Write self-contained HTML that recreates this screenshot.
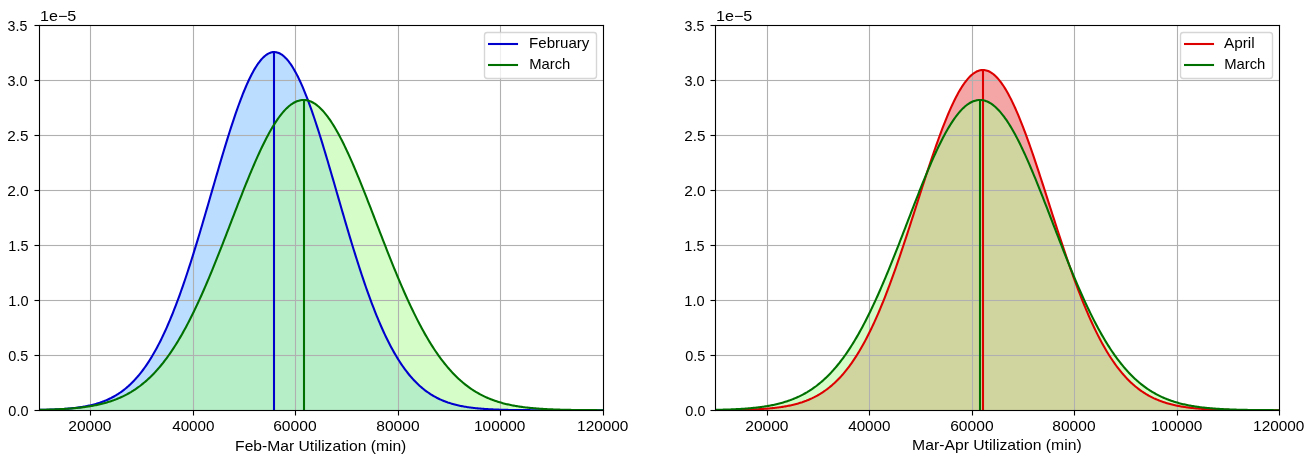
<!DOCTYPE html>
<html lang="en"><head><meta charset="utf-8"><title>Utilization distributions</title>
<style>
html,body{margin:0;padding:0;background:#fff;overflow:hidden}
#fig{position:relative;width:1312px;height:457px;overflow:hidden;background:#fff;font-family:"Liberation Sans",sans-serif;font-size:14.1px;color:#000}
#fig svg{position:absolute;left:0;top:0}
#labels{position:absolute;left:0;top:0;width:1312px;height:457px;will-change:transform}
.t{position:absolute;left:0;top:0;white-space:nowrap;line-height:20px;transform-origin:0 0}
</style></head><body>
<div id="fig">
<svg width="1312" height="457" viewBox="0 0 1312 457">
<defs>
<clipPath id="c0"><rect x="39" y="25" width="565" height="386"/></clipPath>
<clipPath id="c1"><rect x="715" y="25" width="565" height="386"/></clipPath>
</defs>
<g clip-path="url(#c0)">
<path d="M39.00,409.93 L40.00,409.91 L41.00,409.89 L42.00,409.87 L43.00,409.84 L44.00,409.82 L45.00,409.79 L46.00,409.77 L46.99,409.74 L47.99,409.71 L48.99,409.67 L49.99,409.64 L50.99,409.61 L51.99,409.57 L52.99,409.53 L53.99,409.49 L54.99,409.44 L55.99,409.40 L56.99,409.35 L57.99,409.30 L58.99,409.24 L59.99,409.19 L60.99,409.13 L61.99,409.07 L62.98,409.00 L63.98,408.93 L64.98,408.86 L65.98,408.79 L66.98,408.71 L67.98,408.62 L68.98,408.54 L69.98,408.45 L70.98,408.35 L71.98,408.25 L72.98,408.15 L73.98,408.04 L74.98,407.92 L75.98,407.80 L76.98,407.67 L77.98,407.54 L78.97,407.40 L79.97,407.26 L80.97,407.11 L81.97,406.95 L82.97,406.79 L83.97,406.62 L84.97,406.44 L85.97,406.25 L86.97,406.06 L87.97,405.85 L88.97,405.64 L89.97,405.42 L90.97,405.19 L91.97,404.95 L92.97,404.70 L93.96,404.44 L94.96,404.17 L95.96,403.88 L96.96,403.59 L97.96,403.29 L98.96,402.97 L99.96,402.64 L100.96,402.30 L101.96,401.94 L102.96,401.57 L103.96,401.19 L104.96,400.79 L105.96,400.37 L106.96,399.94 L107.96,399.50 L108.96,399.04 L109.95,398.56 L110.95,398.06 L111.95,397.55 L112.95,397.02 L113.95,396.47 L114.95,395.90 L115.95,395.31 L116.95,394.70 L117.95,394.07 L118.95,393.42 L119.95,392.74 L120.95,392.05 L121.95,391.33 L122.95,390.59 L123.95,389.82 L124.95,389.03 L125.94,388.21 L126.94,387.37 L127.94,386.51 L128.94,385.61 L129.94,384.69 L130.94,383.74 L131.94,382.76 L132.94,381.76 L133.94,380.72 L134.94,379.66 L135.94,378.56 L136.94,377.43 L137.94,376.28 L138.94,375.09 L139.94,373.86 L140.93,372.61 L141.93,371.32 L142.93,370.00 L143.93,368.64 L144.93,367.25 L145.93,365.82 L146.93,364.36 L147.93,362.86 L148.93,361.32 L149.93,359.75 L150.93,358.14 L151.93,356.49 L152.93,354.81 L153.93,353.08 L154.93,351.32 L155.93,349.52 L156.92,347.68 L157.92,345.80 L158.92,343.88 L159.92,341.92 L160.92,339.92 L161.92,337.88 L162.92,335.80 L163.92,333.67 L164.92,331.51 L165.92,329.31 L166.92,327.07 L167.92,324.78 L168.92,322.46 L169.92,320.10 L170.92,317.69 L171.92,315.25 L172.91,312.77 L173.91,310.24 L174.91,307.68 L175.91,305.08 L176.91,302.44 L177.91,299.76 L178.91,297.04 L179.91,294.29 L180.91,291.50 L181.91,288.67 L182.91,285.81 L183.91,282.91 L184.91,279.98 L185.91,277.01 L186.91,274.01 L187.90,270.98 L188.90,267.92 L189.90,264.82 L190.90,261.70 L191.90,258.55 L192.90,255.37 L193.90,252.16 L194.90,248.93 L195.90,245.67 L196.90,242.40 L197.90,239.09 L198.90,235.77 L199.90,232.43 L200.90,229.07 L201.90,225.70 L202.90,222.31 L203.89,218.90 L204.89,215.49 L205.89,212.06 L206.89,208.62 L207.89,205.18 L208.89,201.73 L209.89,198.27 L210.89,194.81 L211.89,191.35 L212.89,187.90 L213.89,184.44 L214.89,180.99 L215.89,177.55 L216.89,174.11 L217.89,170.68 L218.89,167.27 L219.88,163.87 L220.88,160.48 L221.88,157.12 L222.88,153.77 L223.88,150.44 L224.88,147.14 L225.88,143.86 L226.88,140.61 L227.88,137.39 L228.88,134.21 L229.88,131.05 L230.88,127.93 L231.88,124.85 L232.88,121.81 L233.88,118.81 L234.87,115.85 L235.87,112.94 L236.87,110.07 L237.87,107.25 L238.87,104.49 L239.87,101.78 L240.87,99.12 L241.87,96.52 L242.87,93.98 L243.87,91.50 L244.87,89.08 L245.87,86.72 L246.87,84.43 L247.87,82.21 L248.87,80.05 L249.87,77.97 L250.86,75.95 L251.86,74.01 L252.86,72.14 L253.86,70.35 L254.86,68.64 L255.86,67.01 L256.86,65.45 L257.86,63.98 L258.86,62.58 L259.86,61.27 L260.86,60.05 L261.86,58.90 L262.86,57.85 L263.86,56.88 L264.86,56.00 L265.86,55.20 L266.85,54.50 L267.85,53.88 L268.85,53.35 L269.85,52.91 L270.85,52.56 L271.85,52.31 L272.85,52.14 L273.85,52.06 L274.85,52.08 L275.85,52.18 L276.85,52.38 L277.85,52.66 L278.85,53.04 L279.85,53.51 L280.85,54.06 L281.84,54.71 L282.84,55.44 L283.84,56.27 L284.84,57.18 L285.84,58.17 L286.84,59.26 L287.84,60.42 L288.84,61.68 L289.84,63.01 L290.84,64.43 L291.84,65.93 L292.84,67.51 L293.84,69.17 L294.84,70.91 L295.84,72.73 L296.84,74.62 L297.83,76.58 L298.83,78.62 L299.83,80.73 L300.83,82.90 L301.83,85.15 L302.83,87.46 L303.83,89.84 L304.83,92.28 L305.83,94.78 L306.83,97.34 L307.83,99.96 L308.83,102.63 L309.83,105.36 L310.83,108.14 L311.83,110.97 L312.83,113.85 L313.82,116.78 L314.82,119.75 L315.82,122.76 L316.82,125.82 L317.82,128.91 L318.82,132.04 L319.82,135.21 L320.82,138.41 L321.82,141.64 L322.82,144.90 L323.82,148.18 L324.82,151.49 L325.82,154.83 L326.82,158.18 L327.82,161.55 L328.81,164.94 L329.81,168.35 L330.81,171.77 L331.81,175.20 L332.81,178.64 L333.81,182.08 L334.81,185.53 L335.81,188.99 L336.81,192.45 L337.81,195.91 L338.81,199.36 L339.81,202.82 L340.81,206.27 L341.81,209.71 L342.81,213.14 L343.81,216.57 L344.80,219.98 L345.80,223.38 L346.80,226.77 L347.80,230.14 L348.80,233.49 L349.80,236.83 L350.80,240.14 L351.80,243.44 L352.80,246.71 L353.80,249.96 L354.80,253.18 L355.80,256.38 L356.80,259.55 L357.80,262.69 L358.80,265.80 L359.80,268.89 L360.79,271.94 L361.79,274.96 L362.79,277.95 L363.79,280.91 L364.79,283.83 L365.79,286.72 L366.79,289.57 L367.79,292.38 L368.79,295.16 L369.79,297.91 L370.79,300.61 L371.79,303.28 L372.79,305.90 L373.79,308.49 L374.79,311.04 L375.78,313.56 L376.78,316.03 L377.78,318.46 L378.78,320.85 L379.78,323.20 L380.78,325.51 L381.78,327.78 L382.78,330.01 L383.78,332.20 L384.78,334.35 L385.78,336.46 L386.78,338.53 L387.78,340.55 L388.78,342.54 L389.78,344.49 L390.78,346.40 L391.77,348.26 L392.77,350.09 L393.77,351.88 L394.77,353.63 L395.77,355.34 L396.77,357.02 L397.77,358.65 L398.77,360.25 L399.77,361.81 L400.77,363.34 L401.77,364.83 L402.77,366.28 L403.77,367.69 L404.77,369.07 L405.77,370.42 L406.77,371.73 L407.76,373.01 L408.76,374.25 L409.76,375.47 L410.76,376.65 L411.76,377.79 L412.76,378.91 L413.76,380.00 L414.76,381.05 L415.76,382.08 L416.76,383.08 L417.76,384.04 L418.76,384.98 L419.76,385.90 L420.76,386.78 L421.76,387.64 L422.75,388.47 L423.75,389.28 L424.75,390.07 L425.75,390.82 L426.75,391.56 L427.75,392.27 L428.75,392.96 L429.75,393.63 L430.75,394.27 L431.75,394.89 L432.75,395.50 L433.75,396.08 L434.75,396.64 L435.75,397.19 L436.75,397.72 L437.75,398.22 L438.74,398.71 L439.74,399.19 L440.74,399.64 L441.74,400.08 L442.74,400.51 L443.74,400.92 L444.74,401.31 L445.74,401.69 L446.74,402.05 L447.74,402.41 L448.74,402.74 L449.74,403.07 L450.74,403.38 L451.74,403.69 L452.74,403.98 L453.74,404.25 L454.73,404.52 L455.73,404.78 L456.73,405.03 L457.73,405.26 L458.73,405.49 L459.73,405.71 L460.73,405.92 L461.73,406.12 L462.73,406.31 L463.73,406.49 L464.73,406.67 L465.73,406.84 L466.73,407.00 L467.73,407.16 L468.73,407.31 L469.72,407.45 L470.72,407.58 L471.72,407.71 L472.72,407.84 L473.72,407.96 L474.72,408.07 L475.72,408.18 L476.72,408.28 L477.72,408.38 L478.72,408.48 L479.72,408.57 L480.72,408.65 L481.72,408.73 L482.72,408.81 L483.72,408.89 L484.72,408.96 L485.71,409.02 L486.71,409.09 L487.71,409.15 L488.71,409.21 L489.71,409.26 L490.71,409.31 L491.71,409.36 L492.71,409.41 L493.71,409.46 L494.71,409.50 L495.71,409.54 L496.71,409.58 L497.71,409.62 L498.71,409.65 L499.71,409.69 L500.71,409.72 L501.70,409.75 L502.70,409.77 L503.70,409.80 L504.70,409.83 L505.70,409.85 L506.70,409.87 L507.70,409.90 L508.70,409.92 L509.70,409.94 L510.70,409.95 L511.70,409.97 L512.70,409.99 L513.70,410.00 L514.70,410.02 L515.70,410.03 L516.69,410.04 L517.69,410.06 L518.69,410.07 L519.69,410.08 L520.69,410.09 L521.69,410.10 L522.69,410.11 L523.69,410.12 L524.69,410.13 L525.69,410.13 L526.69,410.14 L527.69,410.15 L528.69,410.15 L529.69,410.16 L530.69,410.17 L531.69,410.17 L532.68,410.18 L533.68,410.18 L534.68,410.18 L535.68,410.19 L536.68,410.19 L537.68,410.20 L538.68,410.20 L539.68,410.20 L540.68,410.21 L541.68,410.21 L542.68,410.21 L543.68,410.21 L544.68,410.22 L545.68,410.22 L546.68,410.22 L547.68,410.22 L548.67,410.22 L549.67,410.23 L550.67,410.23 L551.67,410.23 L552.67,410.23 L553.67,410.23 L554.67,410.23 L555.67,410.23 L556.67,410.24 L557.67,410.24 L558.67,410.24 L559.67,410.24 L560.67,410.24 L561.67,410.24 L562.67,410.24 L563.66,410.24 L564.66,410.24 L565.66,410.24 L566.66,410.24 L567.66,410.24 L568.66,410.24 L569.66,410.24 L570.66,410.24 L571.66,410.25 L572.66,410.25 L573.66,410.25 L574.66,410.25 L575.66,410.25 L576.66,410.25 L577.66,410.25 L578.66,410.25 L579.65,410.25 L580.65,410.25 L581.65,410.25 L582.65,410.25 L583.65,410.25 L584.65,410.25 L585.65,410.25 L586.65,410.25 L587.65,410.25 L588.65,410.25 L589.65,410.25 L590.65,410.25 L591.65,410.25 L592.65,410.25 L593.65,410.25 L594.65,410.25 L595.64,410.25 L596.64,410.25 L597.64,410.25 L598.64,410.25 L599.64,410.25 L600.64,410.25 L601.64,410.25 L602.64,410.25 L602.64,410.25 L39.00,410.25 Z" fill="#1e90ff" fill-opacity="0.3" stroke="none"/>
<path d="M39.00,409.85 L40.00,409.83 L41.00,409.81 L42.00,409.79 L43.00,409.77 L44.00,409.74 L45.00,409.72 L46.00,409.69 L46.99,409.66 L47.99,409.63 L48.99,409.60 L49.99,409.57 L50.99,409.53 L51.99,409.50 L52.99,409.46 L53.99,409.42 L54.99,409.38 L55.99,409.34 L56.99,409.30 L57.99,409.25 L58.99,409.21 L59.99,409.16 L60.99,409.10 L61.99,409.05 L62.98,408.99 L63.98,408.93 L64.98,408.87 L65.98,408.81 L66.98,408.74 L67.98,408.67 L68.98,408.60 L69.98,408.53 L70.98,408.45 L71.98,408.37 L72.98,408.28 L73.98,408.20 L74.98,408.10 L75.98,408.01 L76.98,407.91 L77.98,407.81 L78.97,407.70 L79.97,407.59 L80.97,407.47 L81.97,407.35 L82.97,407.23 L83.97,407.10 L84.97,406.97 L85.97,406.83 L86.97,406.68 L87.97,406.53 L88.97,406.38 L89.97,406.22 L90.97,406.05 L91.97,405.88 L92.97,405.70 L93.96,405.51 L94.96,405.32 L95.96,405.12 L96.96,404.91 L97.96,404.70 L98.96,404.48 L99.96,404.25 L100.96,404.01 L101.96,403.77 L102.96,403.52 L103.96,403.26 L104.96,402.99 L105.96,402.71 L106.96,402.42 L107.96,402.12 L108.96,401.81 L109.95,401.50 L110.95,401.17 L111.95,400.83 L112.95,400.48 L113.95,400.12 L114.95,399.75 L115.95,399.37 L116.95,398.97 L117.95,398.57 L118.95,398.15 L119.95,397.72 L120.95,397.27 L121.95,396.82 L122.95,396.34 L123.95,395.86 L124.95,395.36 L125.94,394.85 L126.94,394.32 L127.94,393.78 L128.94,393.22 L129.94,392.64 L130.94,392.06 L131.94,391.45 L132.94,390.83 L133.94,390.19 L134.94,389.53 L135.94,388.86 L136.94,388.17 L137.94,387.46 L138.94,386.73 L139.94,385.99 L140.93,385.22 L141.93,384.44 L142.93,383.63 L143.93,382.81 L144.93,381.97 L145.93,381.10 L146.93,380.22 L147.93,379.31 L148.93,378.39 L149.93,377.44 L150.93,376.47 L151.93,375.47 L152.93,374.46 L153.93,373.42 L154.93,372.36 L155.93,371.28 L156.92,370.17 L157.92,369.04 L158.92,367.89 L159.92,366.71 L160.92,365.51 L161.92,364.28 L162.92,363.03 L163.92,361.76 L164.92,360.46 L165.92,359.13 L166.92,357.78 L167.92,356.40 L168.92,355.00 L169.92,353.57 L170.92,352.12 L171.92,350.64 L172.91,349.13 L173.91,347.60 L174.91,346.04 L175.91,344.46 L176.91,342.85 L177.91,341.21 L178.91,339.54 L179.91,337.85 L180.91,336.14 L181.91,334.40 L182.91,332.63 L183.91,330.83 L184.91,329.01 L185.91,327.16 L186.91,325.29 L187.90,323.39 L188.90,321.47 L189.90,319.52 L190.90,317.55 L191.90,315.55 L192.90,313.52 L193.90,311.47 L194.90,309.40 L195.90,307.30 L196.90,305.18 L197.90,303.04 L198.90,300.87 L199.90,298.68 L200.90,296.47 L201.90,294.24 L202.90,291.98 L203.89,289.71 L204.89,287.41 L205.89,285.10 L206.89,282.76 L207.89,280.41 L208.89,278.04 L209.89,275.65 L210.89,273.24 L211.89,270.81 L212.89,268.38 L213.89,265.92 L214.89,263.45 L215.89,260.97 L216.89,258.47 L217.89,255.96 L218.89,253.44 L219.88,250.91 L220.88,248.37 L221.88,245.82 L222.88,243.26 L223.88,240.69 L224.88,238.12 L225.88,235.54 L226.88,232.96 L227.88,230.37 L228.88,227.78 L229.88,225.18 L230.88,222.59 L231.88,219.99 L232.88,217.40 L233.88,214.81 L234.87,212.22 L235.87,209.63 L236.87,207.05 L237.87,204.48 L238.87,201.91 L239.87,199.35 L240.87,196.80 L241.87,194.26 L242.87,191.73 L243.87,189.21 L244.87,186.71 L245.87,184.22 L246.87,181.75 L247.87,179.29 L248.87,176.85 L249.87,174.43 L250.86,172.04 L251.86,169.66 L252.86,167.30 L253.86,164.97 L254.86,162.67 L255.86,160.39 L256.86,158.13 L257.86,155.91 L258.86,153.71 L259.86,151.54 L260.86,149.41 L261.86,147.31 L262.86,145.24 L263.86,143.20 L264.86,141.20 L265.86,139.24 L266.85,137.32 L267.85,135.43 L268.85,133.58 L269.85,131.78 L270.85,130.01 L271.85,128.29 L272.85,126.61 L273.85,124.98 L274.85,123.39 L275.85,121.84 L276.85,120.35 L277.85,118.90 L278.85,117.50 L279.85,116.15 L280.85,114.84 L281.84,113.59 L282.84,112.39 L283.84,111.25 L284.84,110.15 L285.84,109.11 L286.84,108.12 L287.84,107.19 L288.84,106.31 L289.84,105.49 L290.84,104.72 L291.84,104.01 L292.84,103.36 L293.84,102.76 L294.84,102.22 L295.84,101.74 L296.84,101.31 L297.83,100.95 L298.83,100.64 L299.83,100.39 L300.83,100.20 L301.83,100.07 L302.83,100.00 L303.83,99.99 L304.83,100.03 L305.83,100.14 L306.83,100.30 L307.83,100.52 L308.83,100.80 L309.83,101.14 L310.83,101.54 L311.83,102.00 L312.83,102.51 L313.82,103.09 L314.82,103.71 L315.82,104.40 L316.82,105.14 L317.82,105.94 L318.82,106.79 L319.82,107.70 L320.82,108.67 L321.82,109.68 L322.82,110.76 L323.82,111.88 L324.82,113.06 L325.82,114.29 L326.82,115.56 L327.82,116.89 L328.81,118.27 L329.81,119.70 L330.81,121.18 L331.81,122.70 L332.81,124.27 L333.81,125.88 L334.81,127.54 L335.81,129.25 L336.81,130.99 L337.81,132.78 L338.81,134.61 L339.81,136.48 L340.81,138.39 L341.81,140.33 L342.81,142.31 L343.81,144.33 L344.80,146.39 L345.80,148.48 L346.80,150.60 L347.80,152.75 L348.80,154.93 L349.80,157.14 L350.80,159.39 L351.80,161.65 L352.80,163.95 L353.80,166.27 L354.80,168.61 L355.80,170.98 L356.80,173.37 L357.80,175.78 L358.80,178.21 L359.80,180.66 L360.79,183.12 L361.79,185.61 L362.79,188.10 L363.79,190.61 L364.79,193.14 L365.79,195.67 L366.79,198.22 L367.79,200.77 L368.79,203.34 L369.79,205.91 L370.79,208.49 L371.79,211.07 L372.79,213.66 L373.79,216.25 L374.79,218.85 L375.78,221.44 L376.78,224.03 L377.78,226.63 L378.78,229.22 L379.78,231.81 L380.78,234.40 L381.78,236.98 L382.78,239.55 L383.78,242.12 L384.78,244.69 L385.78,247.24 L386.78,249.79 L387.78,252.32 L388.78,254.85 L389.78,257.36 L390.78,259.87 L391.77,262.35 L392.77,264.83 L393.77,267.29 L394.77,269.74 L395.77,272.17 L396.77,274.58 L397.77,276.98 L398.77,279.36 L399.77,281.72 L400.77,284.07 L401.77,286.39 L402.77,288.70 L403.77,290.98 L404.77,293.24 L405.77,295.49 L406.77,297.71 L407.76,299.91 L408.76,302.08 L409.76,304.24 L410.76,306.37 L411.76,308.48 L412.76,310.56 L413.76,312.62 L414.76,314.65 L415.76,316.66 L416.76,318.65 L417.76,320.61 L418.76,322.55 L419.76,324.46 L420.76,326.34 L421.76,328.20 L422.75,330.03 L423.75,331.84 L424.75,333.62 L425.75,335.37 L426.75,337.10 L427.75,338.80 L428.75,340.48 L429.75,342.12 L430.75,343.75 L431.75,345.34 L432.75,346.91 L433.75,348.46 L434.75,349.98 L435.75,351.47 L436.75,352.93 L437.75,354.37 L438.74,355.79 L439.74,357.17 L440.74,358.54 L441.74,359.87 L442.74,361.19 L443.74,362.47 L444.74,363.73 L445.74,364.97 L446.74,366.18 L447.74,367.37 L448.74,368.54 L449.74,369.68 L450.74,370.79 L451.74,371.89 L452.74,372.96 L453.74,374.00 L454.73,375.03 L455.73,376.03 L456.73,377.01 L457.73,377.97 L458.73,378.90 L459.73,379.82 L460.73,380.71 L461.73,381.59 L462.73,382.44 L463.73,383.27 L464.73,384.08 L465.73,384.88 L466.73,385.65 L467.73,386.40 L468.73,387.14 L469.72,387.86 L470.72,388.56 L471.72,389.24 L472.72,389.90 L473.72,390.55 L474.72,391.18 L475.72,391.79 L476.72,392.39 L477.72,392.97 L478.72,393.53 L479.72,394.08 L480.72,394.62 L481.72,395.14 L482.72,395.64 L483.72,396.13 L484.72,396.61 L485.71,397.07 L486.71,397.52 L487.71,397.96 L488.71,398.38 L489.71,398.80 L490.71,399.20 L491.71,399.58 L492.71,399.96 L493.71,400.32 L494.71,400.68 L495.71,401.02 L496.71,401.35 L497.71,401.67 L498.71,401.99 L499.71,402.29 L500.71,402.58 L501.70,402.86 L502.70,403.14 L503.70,403.40 L504.70,403.66 L505.70,403.91 L506.70,404.15 L507.70,404.38 L508.70,404.60 L509.70,404.82 L510.70,405.03 L511.70,405.23 L512.70,405.43 L513.70,405.62 L514.70,405.80 L515.70,405.97 L516.69,406.14 L517.69,406.31 L518.69,406.46 L519.69,406.62 L520.69,406.76 L521.69,406.90 L522.69,407.04 L523.69,407.17 L524.69,407.30 L525.69,407.42 L526.69,407.54 L527.69,407.65 L528.69,407.76 L529.69,407.86 L530.69,407.97 L531.69,408.06 L532.68,408.16 L533.68,408.24 L534.68,408.33 L535.68,408.41 L536.68,408.49 L537.68,408.57 L538.68,408.64 L539.68,408.71 L540.68,408.78 L541.68,408.85 L542.68,408.91 L543.68,408.97 L544.68,409.03 L545.68,409.08 L546.68,409.13 L547.68,409.18 L548.67,409.23 L549.67,409.28 L550.67,409.32 L551.67,409.37 L552.67,409.41 L553.67,409.45 L554.67,409.48 L555.67,409.52 L556.67,409.55 L557.67,409.59 L558.67,409.62 L559.67,409.65 L560.67,409.68 L561.67,409.70 L562.67,409.73 L563.66,409.76 L564.66,409.78 L565.66,409.80 L566.66,409.82 L567.66,409.84 L568.66,409.86 L569.66,409.88 L570.66,409.90 L571.66,409.92 L572.66,409.94 L573.66,409.95 L574.66,409.97 L575.66,409.98 L576.66,409.99 L577.66,410.01 L578.66,410.02 L579.65,410.03 L580.65,410.04 L581.65,410.05 L582.65,410.06 L583.65,410.07 L584.65,410.08 L585.65,410.09 L586.65,410.10 L587.65,410.11 L588.65,410.11 L589.65,410.12 L590.65,410.13 L591.65,410.14 L592.65,410.14 L593.65,410.15 L594.65,410.15 L595.64,410.16 L596.64,410.16 L597.64,410.17 L598.64,410.17 L599.64,410.18 L600.64,410.18 L601.64,410.18 L602.64,410.19 L602.64,410.25 L39.00,410.25 Z" fill="#b3fb9b" fill-opacity="0.55" stroke="none"/>
<g fill="#b0b0b0">
<rect x="89.945" y="25" width="1.11" height="386"/>
<rect x="192.945" y="25" width="1.11" height="386"/>
<rect x="294.945" y="25" width="1.11" height="386"/>
<rect x="397.945" y="25" width="1.11" height="386"/>
<rect x="499.945" y="25" width="1.11" height="386"/>
<rect x="39" y="79.945" width="565" height="1.11"/>
<rect x="39" y="134.945" width="565" height="1.11"/>
<rect x="39" y="189.945" width="565" height="1.11"/>
<rect x="39" y="244.945" width="565" height="1.11"/>
<rect x="39" y="299.945" width="565" height="1.11"/>
<rect x="39" y="354.945" width="565" height="1.11"/>
</g>
<path d="M39.00,409.93 L40.00,409.91 L41.00,409.89 L42.00,409.87 L43.00,409.84 L44.00,409.82 L45.00,409.79 L46.00,409.77 L46.99,409.74 L47.99,409.71 L48.99,409.67 L49.99,409.64 L50.99,409.61 L51.99,409.57 L52.99,409.53 L53.99,409.49 L54.99,409.44 L55.99,409.40 L56.99,409.35 L57.99,409.30 L58.99,409.24 L59.99,409.19 L60.99,409.13 L61.99,409.07 L62.98,409.00 L63.98,408.93 L64.98,408.86 L65.98,408.79 L66.98,408.71 L67.98,408.62 L68.98,408.54 L69.98,408.45 L70.98,408.35 L71.98,408.25 L72.98,408.15 L73.98,408.04 L74.98,407.92 L75.98,407.80 L76.98,407.67 L77.98,407.54 L78.97,407.40 L79.97,407.26 L80.97,407.11 L81.97,406.95 L82.97,406.79 L83.97,406.62 L84.97,406.44 L85.97,406.25 L86.97,406.06 L87.97,405.85 L88.97,405.64 L89.97,405.42 L90.97,405.19 L91.97,404.95 L92.97,404.70 L93.96,404.44 L94.96,404.17 L95.96,403.88 L96.96,403.59 L97.96,403.29 L98.96,402.97 L99.96,402.64 L100.96,402.30 L101.96,401.94 L102.96,401.57 L103.96,401.19 L104.96,400.79 L105.96,400.37 L106.96,399.94 L107.96,399.50 L108.96,399.04 L109.95,398.56 L110.95,398.06 L111.95,397.55 L112.95,397.02 L113.95,396.47 L114.95,395.90 L115.95,395.31 L116.95,394.70 L117.95,394.07 L118.95,393.42 L119.95,392.74 L120.95,392.05 L121.95,391.33 L122.95,390.59 L123.95,389.82 L124.95,389.03 L125.94,388.21 L126.94,387.37 L127.94,386.51 L128.94,385.61 L129.94,384.69 L130.94,383.74 L131.94,382.76 L132.94,381.76 L133.94,380.72 L134.94,379.66 L135.94,378.56 L136.94,377.43 L137.94,376.28 L138.94,375.09 L139.94,373.86 L140.93,372.61 L141.93,371.32 L142.93,370.00 L143.93,368.64 L144.93,367.25 L145.93,365.82 L146.93,364.36 L147.93,362.86 L148.93,361.32 L149.93,359.75 L150.93,358.14 L151.93,356.49 L152.93,354.81 L153.93,353.08 L154.93,351.32 L155.93,349.52 L156.92,347.68 L157.92,345.80 L158.92,343.88 L159.92,341.92 L160.92,339.92 L161.92,337.88 L162.92,335.80 L163.92,333.67 L164.92,331.51 L165.92,329.31 L166.92,327.07 L167.92,324.78 L168.92,322.46 L169.92,320.10 L170.92,317.69 L171.92,315.25 L172.91,312.77 L173.91,310.24 L174.91,307.68 L175.91,305.08 L176.91,302.44 L177.91,299.76 L178.91,297.04 L179.91,294.29 L180.91,291.50 L181.91,288.67 L182.91,285.81 L183.91,282.91 L184.91,279.98 L185.91,277.01 L186.91,274.01 L187.90,270.98 L188.90,267.92 L189.90,264.82 L190.90,261.70 L191.90,258.55 L192.90,255.37 L193.90,252.16 L194.90,248.93 L195.90,245.67 L196.90,242.40 L197.90,239.09 L198.90,235.77 L199.90,232.43 L200.90,229.07 L201.90,225.70 L202.90,222.31 L203.89,218.90 L204.89,215.49 L205.89,212.06 L206.89,208.62 L207.89,205.18 L208.89,201.73 L209.89,198.27 L210.89,194.81 L211.89,191.35 L212.89,187.90 L213.89,184.44 L214.89,180.99 L215.89,177.55 L216.89,174.11 L217.89,170.68 L218.89,167.27 L219.88,163.87 L220.88,160.48 L221.88,157.12 L222.88,153.77 L223.88,150.44 L224.88,147.14 L225.88,143.86 L226.88,140.61 L227.88,137.39 L228.88,134.21 L229.88,131.05 L230.88,127.93 L231.88,124.85 L232.88,121.81 L233.88,118.81 L234.87,115.85 L235.87,112.94 L236.87,110.07 L237.87,107.25 L238.87,104.49 L239.87,101.78 L240.87,99.12 L241.87,96.52 L242.87,93.98 L243.87,91.50 L244.87,89.08 L245.87,86.72 L246.87,84.43 L247.87,82.21 L248.87,80.05 L249.87,77.97 L250.86,75.95 L251.86,74.01 L252.86,72.14 L253.86,70.35 L254.86,68.64 L255.86,67.01 L256.86,65.45 L257.86,63.98 L258.86,62.58 L259.86,61.27 L260.86,60.05 L261.86,58.90 L262.86,57.85 L263.86,56.88 L264.86,56.00 L265.86,55.20 L266.85,54.50 L267.85,53.88 L268.85,53.35 L269.85,52.91 L270.85,52.56 L271.85,52.31 L272.85,52.14 L273.85,52.06 L274.85,52.08 L275.85,52.18 L276.85,52.38 L277.85,52.66 L278.85,53.04 L279.85,53.51 L280.85,54.06 L281.84,54.71 L282.84,55.44 L283.84,56.27 L284.84,57.18 L285.84,58.17 L286.84,59.26 L287.84,60.42 L288.84,61.68 L289.84,63.01 L290.84,64.43 L291.84,65.93 L292.84,67.51 L293.84,69.17 L294.84,70.91 L295.84,72.73 L296.84,74.62 L297.83,76.58 L298.83,78.62 L299.83,80.73 L300.83,82.90 L301.83,85.15 L302.83,87.46 L303.83,89.84 L304.83,92.28 L305.83,94.78 L306.83,97.34 L307.83,99.96 L308.83,102.63 L309.83,105.36 L310.83,108.14 L311.83,110.97 L312.83,113.85 L313.82,116.78 L314.82,119.75 L315.82,122.76 L316.82,125.82 L317.82,128.91 L318.82,132.04 L319.82,135.21 L320.82,138.41 L321.82,141.64 L322.82,144.90 L323.82,148.18 L324.82,151.49 L325.82,154.83 L326.82,158.18 L327.82,161.55 L328.81,164.94 L329.81,168.35 L330.81,171.77 L331.81,175.20 L332.81,178.64 L333.81,182.08 L334.81,185.53 L335.81,188.99 L336.81,192.45 L337.81,195.91 L338.81,199.36 L339.81,202.82 L340.81,206.27 L341.81,209.71 L342.81,213.14 L343.81,216.57 L344.80,219.98 L345.80,223.38 L346.80,226.77 L347.80,230.14 L348.80,233.49 L349.80,236.83 L350.80,240.14 L351.80,243.44 L352.80,246.71 L353.80,249.96 L354.80,253.18 L355.80,256.38 L356.80,259.55 L357.80,262.69 L358.80,265.80 L359.80,268.89 L360.79,271.94 L361.79,274.96 L362.79,277.95 L363.79,280.91 L364.79,283.83 L365.79,286.72 L366.79,289.57 L367.79,292.38 L368.79,295.16 L369.79,297.91 L370.79,300.61 L371.79,303.28 L372.79,305.90 L373.79,308.49 L374.79,311.04 L375.78,313.56 L376.78,316.03 L377.78,318.46 L378.78,320.85 L379.78,323.20 L380.78,325.51 L381.78,327.78 L382.78,330.01 L383.78,332.20 L384.78,334.35 L385.78,336.46 L386.78,338.53 L387.78,340.55 L388.78,342.54 L389.78,344.49 L390.78,346.40 L391.77,348.26 L392.77,350.09 L393.77,351.88 L394.77,353.63 L395.77,355.34 L396.77,357.02 L397.77,358.65 L398.77,360.25 L399.77,361.81 L400.77,363.34 L401.77,364.83 L402.77,366.28 L403.77,367.69 L404.77,369.07 L405.77,370.42 L406.77,371.73 L407.76,373.01 L408.76,374.25 L409.76,375.47 L410.76,376.65 L411.76,377.79 L412.76,378.91 L413.76,380.00 L414.76,381.05 L415.76,382.08 L416.76,383.08 L417.76,384.04 L418.76,384.98 L419.76,385.90 L420.76,386.78 L421.76,387.64 L422.75,388.47 L423.75,389.28 L424.75,390.07 L425.75,390.82 L426.75,391.56 L427.75,392.27 L428.75,392.96 L429.75,393.63 L430.75,394.27 L431.75,394.89 L432.75,395.50 L433.75,396.08 L434.75,396.64 L435.75,397.19 L436.75,397.72 L437.75,398.22 L438.74,398.71 L439.74,399.19 L440.74,399.64 L441.74,400.08 L442.74,400.51 L443.74,400.92 L444.74,401.31 L445.74,401.69 L446.74,402.05 L447.74,402.41 L448.74,402.74 L449.74,403.07 L450.74,403.38 L451.74,403.69 L452.74,403.98 L453.74,404.25 L454.73,404.52 L455.73,404.78 L456.73,405.03 L457.73,405.26 L458.73,405.49 L459.73,405.71 L460.73,405.92 L461.73,406.12 L462.73,406.31 L463.73,406.49 L464.73,406.67 L465.73,406.84 L466.73,407.00 L467.73,407.16 L468.73,407.31 L469.72,407.45 L470.72,407.58 L471.72,407.71 L472.72,407.84 L473.72,407.96 L474.72,408.07 L475.72,408.18 L476.72,408.28 L477.72,408.38 L478.72,408.48 L479.72,408.57 L480.72,408.65 L481.72,408.73 L482.72,408.81 L483.72,408.89 L484.72,408.96 L485.71,409.02 L486.71,409.09 L487.71,409.15 L488.71,409.21 L489.71,409.26 L490.71,409.31 L491.71,409.36 L492.71,409.41 L493.71,409.46 L494.71,409.50 L495.71,409.54 L496.71,409.58 L497.71,409.62 L498.71,409.65 L499.71,409.69 L500.71,409.72 L501.70,409.75 L502.70,409.77 L503.70,409.80 L504.70,409.83 L505.70,409.85 L506.70,409.87 L507.70,409.90 L508.70,409.92 L509.70,409.94 L510.70,409.95 L511.70,409.97 L512.70,409.99 L513.70,410.00 L514.70,410.02 L515.70,410.03 L516.69,410.04 L517.69,410.06 L518.69,410.07 L519.69,410.08 L520.69,410.09 L521.69,410.10 L522.69,410.11 L523.69,410.12 L524.69,410.13 L525.69,410.13 L526.69,410.14 L527.69,410.15 L528.69,410.15 L529.69,410.16 L530.69,410.17 L531.69,410.17 L532.68,410.18 L533.68,410.18 L534.68,410.18 L535.68,410.19 L536.68,410.19 L537.68,410.20 L538.68,410.20 L539.68,410.20 L540.68,410.21 L541.68,410.21 L542.68,410.21 L543.68,410.21 L544.68,410.22 L545.68,410.22 L546.68,410.22 L547.68,410.22 L548.67,410.22 L549.67,410.23 L550.67,410.23 L551.67,410.23 L552.67,410.23 L553.67,410.23 L554.67,410.23 L555.67,410.23 L556.67,410.24 L557.67,410.24 L558.67,410.24 L559.67,410.24 L560.67,410.24 L561.67,410.24 L562.67,410.24 L563.66,410.24 L564.66,410.24 L565.66,410.24 L566.66,410.24 L567.66,410.24 L568.66,410.24 L569.66,410.24 L570.66,410.24 L571.66,410.25 L572.66,410.25 L573.66,410.25 L574.66,410.25 L575.66,410.25 L576.66,410.25 L577.66,410.25 L578.66,410.25 L579.65,410.25 L580.65,410.25 L581.65,410.25 L582.65,410.25 L583.65,410.25 L584.65,410.25 L585.65,410.25 L586.65,410.25 L587.65,410.25 L588.65,410.25 L589.65,410.25 L590.65,410.25 L591.65,410.25 L592.65,410.25 L593.65,410.25 L594.65,410.25 L595.64,410.25 L596.64,410.25 L597.64,410.25 L598.64,410.25 L599.64,410.25 L600.64,410.25 L601.64,410.25 L602.64,410.25" fill="none" stroke="#0000cd" stroke-width="2.083" stroke-linejoin="round" stroke-linecap="square"/>
<rect x="272.96" y="52.06" width="2.08" height="358.19" fill="#0000cd"/>
<path d="M39.00,409.85 L40.00,409.83 L41.00,409.81 L42.00,409.79 L43.00,409.77 L44.00,409.74 L45.00,409.72 L46.00,409.69 L46.99,409.66 L47.99,409.63 L48.99,409.60 L49.99,409.57 L50.99,409.53 L51.99,409.50 L52.99,409.46 L53.99,409.42 L54.99,409.38 L55.99,409.34 L56.99,409.30 L57.99,409.25 L58.99,409.21 L59.99,409.16 L60.99,409.10 L61.99,409.05 L62.98,408.99 L63.98,408.93 L64.98,408.87 L65.98,408.81 L66.98,408.74 L67.98,408.67 L68.98,408.60 L69.98,408.53 L70.98,408.45 L71.98,408.37 L72.98,408.28 L73.98,408.20 L74.98,408.10 L75.98,408.01 L76.98,407.91 L77.98,407.81 L78.97,407.70 L79.97,407.59 L80.97,407.47 L81.97,407.35 L82.97,407.23 L83.97,407.10 L84.97,406.97 L85.97,406.83 L86.97,406.68 L87.97,406.53 L88.97,406.38 L89.97,406.22 L90.97,406.05 L91.97,405.88 L92.97,405.70 L93.96,405.51 L94.96,405.32 L95.96,405.12 L96.96,404.91 L97.96,404.70 L98.96,404.48 L99.96,404.25 L100.96,404.01 L101.96,403.77 L102.96,403.52 L103.96,403.26 L104.96,402.99 L105.96,402.71 L106.96,402.42 L107.96,402.12 L108.96,401.81 L109.95,401.50 L110.95,401.17 L111.95,400.83 L112.95,400.48 L113.95,400.12 L114.95,399.75 L115.95,399.37 L116.95,398.97 L117.95,398.57 L118.95,398.15 L119.95,397.72 L120.95,397.27 L121.95,396.82 L122.95,396.34 L123.95,395.86 L124.95,395.36 L125.94,394.85 L126.94,394.32 L127.94,393.78 L128.94,393.22 L129.94,392.64 L130.94,392.06 L131.94,391.45 L132.94,390.83 L133.94,390.19 L134.94,389.53 L135.94,388.86 L136.94,388.17 L137.94,387.46 L138.94,386.73 L139.94,385.99 L140.93,385.22 L141.93,384.44 L142.93,383.63 L143.93,382.81 L144.93,381.97 L145.93,381.10 L146.93,380.22 L147.93,379.31 L148.93,378.39 L149.93,377.44 L150.93,376.47 L151.93,375.47 L152.93,374.46 L153.93,373.42 L154.93,372.36 L155.93,371.28 L156.92,370.17 L157.92,369.04 L158.92,367.89 L159.92,366.71 L160.92,365.51 L161.92,364.28 L162.92,363.03 L163.92,361.76 L164.92,360.46 L165.92,359.13 L166.92,357.78 L167.92,356.40 L168.92,355.00 L169.92,353.57 L170.92,352.12 L171.92,350.64 L172.91,349.13 L173.91,347.60 L174.91,346.04 L175.91,344.46 L176.91,342.85 L177.91,341.21 L178.91,339.54 L179.91,337.85 L180.91,336.14 L181.91,334.40 L182.91,332.63 L183.91,330.83 L184.91,329.01 L185.91,327.16 L186.91,325.29 L187.90,323.39 L188.90,321.47 L189.90,319.52 L190.90,317.55 L191.90,315.55 L192.90,313.52 L193.90,311.47 L194.90,309.40 L195.90,307.30 L196.90,305.18 L197.90,303.04 L198.90,300.87 L199.90,298.68 L200.90,296.47 L201.90,294.24 L202.90,291.98 L203.89,289.71 L204.89,287.41 L205.89,285.10 L206.89,282.76 L207.89,280.41 L208.89,278.04 L209.89,275.65 L210.89,273.24 L211.89,270.81 L212.89,268.38 L213.89,265.92 L214.89,263.45 L215.89,260.97 L216.89,258.47 L217.89,255.96 L218.89,253.44 L219.88,250.91 L220.88,248.37 L221.88,245.82 L222.88,243.26 L223.88,240.69 L224.88,238.12 L225.88,235.54 L226.88,232.96 L227.88,230.37 L228.88,227.78 L229.88,225.18 L230.88,222.59 L231.88,219.99 L232.88,217.40 L233.88,214.81 L234.87,212.22 L235.87,209.63 L236.87,207.05 L237.87,204.48 L238.87,201.91 L239.87,199.35 L240.87,196.80 L241.87,194.26 L242.87,191.73 L243.87,189.21 L244.87,186.71 L245.87,184.22 L246.87,181.75 L247.87,179.29 L248.87,176.85 L249.87,174.43 L250.86,172.04 L251.86,169.66 L252.86,167.30 L253.86,164.97 L254.86,162.67 L255.86,160.39 L256.86,158.13 L257.86,155.91 L258.86,153.71 L259.86,151.54 L260.86,149.41 L261.86,147.31 L262.86,145.24 L263.86,143.20 L264.86,141.20 L265.86,139.24 L266.85,137.32 L267.85,135.43 L268.85,133.58 L269.85,131.78 L270.85,130.01 L271.85,128.29 L272.85,126.61 L273.85,124.98 L274.85,123.39 L275.85,121.84 L276.85,120.35 L277.85,118.90 L278.85,117.50 L279.85,116.15 L280.85,114.84 L281.84,113.59 L282.84,112.39 L283.84,111.25 L284.84,110.15 L285.84,109.11 L286.84,108.12 L287.84,107.19 L288.84,106.31 L289.84,105.49 L290.84,104.72 L291.84,104.01 L292.84,103.36 L293.84,102.76 L294.84,102.22 L295.84,101.74 L296.84,101.31 L297.83,100.95 L298.83,100.64 L299.83,100.39 L300.83,100.20 L301.83,100.07 L302.83,100.00 L303.83,99.99 L304.83,100.03 L305.83,100.14 L306.83,100.30 L307.83,100.52 L308.83,100.80 L309.83,101.14 L310.83,101.54 L311.83,102.00 L312.83,102.51 L313.82,103.09 L314.82,103.71 L315.82,104.40 L316.82,105.14 L317.82,105.94 L318.82,106.79 L319.82,107.70 L320.82,108.67 L321.82,109.68 L322.82,110.76 L323.82,111.88 L324.82,113.06 L325.82,114.29 L326.82,115.56 L327.82,116.89 L328.81,118.27 L329.81,119.70 L330.81,121.18 L331.81,122.70 L332.81,124.27 L333.81,125.88 L334.81,127.54 L335.81,129.25 L336.81,130.99 L337.81,132.78 L338.81,134.61 L339.81,136.48 L340.81,138.39 L341.81,140.33 L342.81,142.31 L343.81,144.33 L344.80,146.39 L345.80,148.48 L346.80,150.60 L347.80,152.75 L348.80,154.93 L349.80,157.14 L350.80,159.39 L351.80,161.65 L352.80,163.95 L353.80,166.27 L354.80,168.61 L355.80,170.98 L356.80,173.37 L357.80,175.78 L358.80,178.21 L359.80,180.66 L360.79,183.12 L361.79,185.61 L362.79,188.10 L363.79,190.61 L364.79,193.14 L365.79,195.67 L366.79,198.22 L367.79,200.77 L368.79,203.34 L369.79,205.91 L370.79,208.49 L371.79,211.07 L372.79,213.66 L373.79,216.25 L374.79,218.85 L375.78,221.44 L376.78,224.03 L377.78,226.63 L378.78,229.22 L379.78,231.81 L380.78,234.40 L381.78,236.98 L382.78,239.55 L383.78,242.12 L384.78,244.69 L385.78,247.24 L386.78,249.79 L387.78,252.32 L388.78,254.85 L389.78,257.36 L390.78,259.87 L391.77,262.35 L392.77,264.83 L393.77,267.29 L394.77,269.74 L395.77,272.17 L396.77,274.58 L397.77,276.98 L398.77,279.36 L399.77,281.72 L400.77,284.07 L401.77,286.39 L402.77,288.70 L403.77,290.98 L404.77,293.24 L405.77,295.49 L406.77,297.71 L407.76,299.91 L408.76,302.08 L409.76,304.24 L410.76,306.37 L411.76,308.48 L412.76,310.56 L413.76,312.62 L414.76,314.65 L415.76,316.66 L416.76,318.65 L417.76,320.61 L418.76,322.55 L419.76,324.46 L420.76,326.34 L421.76,328.20 L422.75,330.03 L423.75,331.84 L424.75,333.62 L425.75,335.37 L426.75,337.10 L427.75,338.80 L428.75,340.48 L429.75,342.12 L430.75,343.75 L431.75,345.34 L432.75,346.91 L433.75,348.46 L434.75,349.98 L435.75,351.47 L436.75,352.93 L437.75,354.37 L438.74,355.79 L439.74,357.17 L440.74,358.54 L441.74,359.87 L442.74,361.19 L443.74,362.47 L444.74,363.73 L445.74,364.97 L446.74,366.18 L447.74,367.37 L448.74,368.54 L449.74,369.68 L450.74,370.79 L451.74,371.89 L452.74,372.96 L453.74,374.00 L454.73,375.03 L455.73,376.03 L456.73,377.01 L457.73,377.97 L458.73,378.90 L459.73,379.82 L460.73,380.71 L461.73,381.59 L462.73,382.44 L463.73,383.27 L464.73,384.08 L465.73,384.88 L466.73,385.65 L467.73,386.40 L468.73,387.14 L469.72,387.86 L470.72,388.56 L471.72,389.24 L472.72,389.90 L473.72,390.55 L474.72,391.18 L475.72,391.79 L476.72,392.39 L477.72,392.97 L478.72,393.53 L479.72,394.08 L480.72,394.62 L481.72,395.14 L482.72,395.64 L483.72,396.13 L484.72,396.61 L485.71,397.07 L486.71,397.52 L487.71,397.96 L488.71,398.38 L489.71,398.80 L490.71,399.20 L491.71,399.58 L492.71,399.96 L493.71,400.32 L494.71,400.68 L495.71,401.02 L496.71,401.35 L497.71,401.67 L498.71,401.99 L499.71,402.29 L500.71,402.58 L501.70,402.86 L502.70,403.14 L503.70,403.40 L504.70,403.66 L505.70,403.91 L506.70,404.15 L507.70,404.38 L508.70,404.60 L509.70,404.82 L510.70,405.03 L511.70,405.23 L512.70,405.43 L513.70,405.62 L514.70,405.80 L515.70,405.97 L516.69,406.14 L517.69,406.31 L518.69,406.46 L519.69,406.62 L520.69,406.76 L521.69,406.90 L522.69,407.04 L523.69,407.17 L524.69,407.30 L525.69,407.42 L526.69,407.54 L527.69,407.65 L528.69,407.76 L529.69,407.86 L530.69,407.97 L531.69,408.06 L532.68,408.16 L533.68,408.24 L534.68,408.33 L535.68,408.41 L536.68,408.49 L537.68,408.57 L538.68,408.64 L539.68,408.71 L540.68,408.78 L541.68,408.85 L542.68,408.91 L543.68,408.97 L544.68,409.03 L545.68,409.08 L546.68,409.13 L547.68,409.18 L548.67,409.23 L549.67,409.28 L550.67,409.32 L551.67,409.37 L552.67,409.41 L553.67,409.45 L554.67,409.48 L555.67,409.52 L556.67,409.55 L557.67,409.59 L558.67,409.62 L559.67,409.65 L560.67,409.68 L561.67,409.70 L562.67,409.73 L563.66,409.76 L564.66,409.78 L565.66,409.80 L566.66,409.82 L567.66,409.84 L568.66,409.86 L569.66,409.88 L570.66,409.90 L571.66,409.92 L572.66,409.94 L573.66,409.95 L574.66,409.97 L575.66,409.98 L576.66,409.99 L577.66,410.01 L578.66,410.02 L579.65,410.03 L580.65,410.04 L581.65,410.05 L582.65,410.06 L583.65,410.07 L584.65,410.08 L585.65,410.09 L586.65,410.10 L587.65,410.11 L588.65,410.11 L589.65,410.12 L590.65,410.13 L591.65,410.14 L592.65,410.14 L593.65,410.15 L594.65,410.15 L595.64,410.16 L596.64,410.16 L597.64,410.17 L598.64,410.17 L599.64,410.18 L600.64,410.18 L601.64,410.18 L602.64,410.19" fill="none" stroke="#007000" stroke-width="2.083" stroke-linejoin="round" stroke-linecap="square"/>
<rect x="302.96" y="99.98" width="2.08" height="310.27" fill="#007000"/>
</g>
<g fill="#000">
<rect x="38.945" y="24.945" width="1.11" height="386.11"/><rect x="602.945" y="24.945" width="1.11" height="386.11"/>
<rect x="38.945" y="24.945" width="565.11" height="1.11"/><rect x="38.945" y="409.945" width="565.11" height="1.11"/>
<rect x="89.945" y="411" width="1.11" height="4.5"/>
<rect x="192.945" y="411" width="1.11" height="4.5"/>
<rect x="294.945" y="411" width="1.11" height="4.5"/>
<rect x="397.945" y="411" width="1.11" height="4.5"/>
<rect x="499.945" y="411" width="1.11" height="4.5"/>
<rect x="602.945" y="411" width="1.11" height="4.5"/>
<rect x="34.5" y="24.945" width="4.5" height="1.11"/>
<rect x="34.5" y="79.945" width="4.5" height="1.11"/>
<rect x="34.5" y="134.945" width="4.5" height="1.11"/>
<rect x="34.5" y="189.945" width="4.5" height="1.11"/>
<rect x="34.5" y="244.945" width="4.5" height="1.11"/>
<rect x="34.5" y="299.945" width="4.5" height="1.11"/>
<rect x="34.5" y="354.945" width="4.5" height="1.11"/>
<rect x="34.5" y="409.945" width="4.5" height="1.11"/>
</g>
<g clip-path="url(#c1)">
<path d="M715.36,410.16 L716.36,410.15 L717.36,410.14 L718.36,410.14 L719.36,410.13 L720.36,410.12 L721.36,410.12 L722.36,410.11 L723.35,410.10 L724.35,410.09 L725.35,410.08 L726.35,410.07 L727.35,410.06 L728.35,410.05 L729.35,410.03 L730.35,410.02 L731.35,410.01 L732.35,409.99 L733.35,409.98 L734.35,409.96 L735.35,409.95 L736.35,409.93 L737.35,409.91 L738.35,409.89 L739.34,409.87 L740.34,409.85 L741.34,409.82 L742.34,409.80 L743.34,409.78 L744.34,409.75 L745.34,409.72 L746.34,409.69 L747.34,409.66 L748.34,409.63 L749.34,409.59 L750.34,409.56 L751.34,409.52 L752.34,409.48 L753.34,409.44 L754.34,409.39 L755.33,409.35 L756.33,409.30 L757.33,409.25 L758.33,409.20 L759.33,409.14 L760.33,409.08 L761.33,409.02 L762.33,408.96 L763.33,408.89 L764.33,408.82 L765.33,408.75 L766.33,408.67 L767.33,408.59 L768.33,408.51 L769.33,408.42 L770.32,408.33 L771.32,408.23 L772.32,408.13 L773.32,408.03 L774.32,407.92 L775.32,407.81 L776.32,407.69 L777.32,407.57 L778.32,407.44 L779.32,407.30 L780.32,407.16 L781.32,407.02 L782.32,406.86 L783.32,406.70 L784.32,406.54 L785.32,406.37 L786.31,406.19 L787.31,406.00 L788.31,405.81 L789.31,405.61 L790.31,405.40 L791.31,405.18 L792.31,404.95 L793.31,404.72 L794.31,404.47 L795.31,404.22 L796.31,403.95 L797.31,403.68 L798.31,403.39 L799.31,403.10 L800.31,402.79 L801.31,402.47 L802.30,402.15 L803.30,401.80 L804.30,401.45 L805.30,401.08 L806.30,400.71 L807.30,400.31 L808.30,399.91 L809.30,399.49 L810.30,399.05 L811.30,398.60 L812.30,398.14 L813.30,397.65 L814.30,397.16 L815.30,396.64 L816.30,396.11 L817.29,395.57 L818.29,395.00 L819.29,394.42 L820.29,393.81 L821.29,393.19 L822.29,392.55 L823.29,391.89 L824.29,391.21 L825.29,390.51 L826.29,389.78 L827.29,389.04 L828.29,388.27 L829.29,387.48 L830.29,386.67 L831.29,385.84 L832.29,384.98 L833.28,384.09 L834.28,383.18 L835.28,382.25 L836.28,381.29 L837.28,380.31 L838.28,379.29 L839.28,378.26 L840.28,377.19 L841.28,376.10 L842.28,374.98 L843.28,373.83 L844.28,372.65 L845.28,371.44 L846.28,370.20 L847.28,368.93 L848.28,367.63 L849.27,366.31 L850.27,364.95 L851.27,363.55 L852.27,362.13 L853.27,360.68 L854.27,359.19 L855.27,357.67 L856.27,356.11 L857.27,354.53 L858.27,352.91 L859.27,351.26 L860.27,349.57 L861.27,347.85 L862.27,346.09 L863.27,344.30 L864.26,342.48 L865.26,340.62 L866.26,338.73 L867.26,336.80 L868.26,334.84 L869.26,332.84 L870.26,330.81 L871.26,328.74 L872.26,326.64 L873.26,324.51 L874.26,322.34 L875.26,320.13 L876.26,317.90 L877.26,315.62 L878.26,313.32 L879.26,310.98 L880.25,308.61 L881.25,306.20 L882.25,303.76 L883.25,301.29 L884.25,298.79 L885.25,296.26 L886.25,293.69 L887.25,291.10 L888.25,288.47 L889.25,285.82 L890.25,283.13 L891.25,280.42 L892.25,277.68 L893.25,274.92 L894.25,272.13 L895.25,269.31 L896.24,266.47 L897.24,263.60 L898.24,260.71 L899.24,257.80 L900.24,254.87 L901.24,251.92 L902.24,248.95 L903.24,245.96 L904.24,242.95 L905.24,239.93 L906.24,236.89 L907.24,233.84 L908.24,230.78 L909.24,227.70 L910.24,224.62 L911.23,221.52 L912.23,218.42 L913.23,215.31 L914.23,212.20 L915.23,209.08 L916.23,205.96 L917.23,202.84 L918.23,199.72 L919.23,196.61 L920.23,193.49 L921.23,190.38 L922.23,187.28 L923.23,184.18 L924.23,181.10 L925.23,178.02 L926.23,174.96 L927.22,171.91 L928.22,168.88 L929.22,165.86 L930.22,162.86 L931.22,159.89 L932.22,156.93 L933.22,154.00 L934.22,151.10 L935.22,148.22 L936.22,145.37 L937.22,142.55 L938.22,139.77 L939.22,137.01 L940.22,134.29 L941.22,131.61 L942.22,128.97 L943.21,126.36 L944.21,123.80 L945.21,121.28 L946.21,118.81 L947.21,116.38 L948.21,114.00 L949.21,111.66 L950.21,109.38 L951.21,107.15 L952.21,104.98 L953.21,102.85 L954.21,100.79 L955.21,98.78 L956.21,96.83 L957.21,94.94 L958.20,93.11 L959.20,91.34 L960.20,89.64 L961.20,88.00 L962.20,86.43 L963.20,84.92 L964.20,83.48 L965.20,82.11 L966.20,80.81 L967.20,79.58 L968.20,78.42 L969.20,77.33 L970.20,76.32 L971.20,75.38 L972.20,74.51 L973.20,73.72 L974.19,73.01 L975.19,72.37 L976.19,71.80 L977.19,71.31 L978.19,70.90 L979.19,70.57 L980.19,70.31 L981.19,70.13 L982.19,70.03 L983.19,70.01 L984.19,70.07 L985.19,70.20 L986.19,70.41 L987.19,70.70 L988.19,71.06 L989.19,71.50 L990.18,72.02 L991.18,72.62 L992.18,73.29 L993.18,74.03 L994.18,74.86 L995.18,75.75 L996.18,76.72 L997.18,77.77 L998.18,78.88 L999.18,80.07 L1000.18,81.33 L1001.18,82.66 L1002.18,84.05 L1003.18,85.52 L1004.18,87.05 L1005.17,88.65 L1006.17,90.32 L1007.17,92.05 L1008.17,93.84 L1009.17,95.70 L1010.17,97.61 L1011.17,99.58 L1012.17,101.62 L1013.17,103.71 L1014.17,105.85 L1015.17,108.05 L1016.17,110.30 L1017.17,112.60 L1018.17,114.96 L1019.17,117.36 L1020.17,119.80 L1021.16,122.30 L1022.16,124.83 L1023.16,127.41 L1024.16,130.03 L1025.16,132.69 L1026.16,135.39 L1027.16,138.12 L1028.16,140.89 L1029.16,143.69 L1030.16,146.52 L1031.16,149.38 L1032.16,152.27 L1033.16,155.19 L1034.16,158.13 L1035.16,161.09 L1036.16,164.08 L1037.15,167.08 L1038.15,170.10 L1039.15,173.14 L1040.15,176.20 L1041.15,179.26 L1042.15,182.34 L1043.15,185.43 L1044.15,188.53 L1045.15,191.64 L1046.15,194.75 L1047.15,197.87 L1048.15,200.99 L1049.15,204.11 L1050.15,207.23 L1051.15,210.35 L1052.14,213.46 L1053.14,216.57 L1054.14,219.68 L1055.14,222.78 L1056.14,225.87 L1057.14,228.95 L1058.14,232.02 L1059.14,235.08 L1060.14,238.13 L1061.14,241.16 L1062.14,244.17 L1063.14,247.17 L1064.14,250.15 L1065.14,253.12 L1066.14,256.06 L1067.14,258.98 L1068.13,261.89 L1069.13,264.77 L1070.13,267.62 L1071.13,270.45 L1072.13,273.26 L1073.13,276.04 L1074.13,278.80 L1075.13,281.52 L1076.13,284.22 L1077.13,286.90 L1078.13,289.54 L1079.13,292.15 L1080.13,294.73 L1081.13,297.29 L1082.13,299.81 L1083.13,302.30 L1084.12,304.75 L1085.12,307.18 L1086.12,309.57 L1087.12,311.93 L1088.12,314.26 L1089.12,316.55 L1090.12,318.81 L1091.12,321.03 L1092.12,323.22 L1093.12,325.38 L1094.12,327.50 L1095.12,329.59 L1096.12,331.64 L1097.12,333.66 L1098.12,335.64 L1099.11,337.59 L1100.11,339.50 L1101.11,341.38 L1102.11,343.22 L1103.11,345.03 L1104.11,346.81 L1105.11,348.55 L1106.11,350.26 L1107.11,351.93 L1108.11,353.57 L1109.11,355.18 L1110.11,356.75 L1111.11,358.29 L1112.11,359.79 L1113.11,361.27 L1114.11,362.71 L1115.10,364.12 L1116.10,365.50 L1117.10,366.85 L1118.10,368.16 L1119.10,369.45 L1120.10,370.71 L1121.10,371.93 L1122.10,373.13 L1123.10,374.29 L1124.10,375.43 L1125.10,376.54 L1126.10,377.63 L1127.10,378.68 L1128.10,379.71 L1129.10,380.71 L1130.10,381.68 L1131.09,382.63 L1132.09,383.55 L1133.09,384.45 L1134.09,385.33 L1135.09,386.18 L1136.09,387.00 L1137.09,387.81 L1138.09,388.59 L1139.09,389.34 L1140.09,390.08 L1141.09,390.79 L1142.09,391.49 L1143.09,392.16 L1144.09,392.81 L1145.09,393.45 L1146.08,394.06 L1147.08,394.65 L1148.08,395.23 L1149.08,395.79 L1150.08,396.33 L1151.08,396.85 L1152.08,397.36 L1153.08,397.85 L1154.08,398.33 L1155.08,398.78 L1156.08,399.23 L1157.08,399.66 L1158.08,400.07 L1159.08,400.47 L1160.08,400.86 L1161.08,401.23 L1162.07,401.60 L1163.07,401.94 L1164.07,402.28 L1165.07,402.60 L1166.07,402.92 L1167.07,403.22 L1168.07,403.51 L1169.07,403.79 L1170.07,404.06 L1171.07,404.32 L1172.07,404.57 L1173.07,404.81 L1174.07,405.04 L1175.07,405.27 L1176.07,405.48 L1177.07,405.69 L1178.06,405.89 L1179.06,406.08 L1180.06,406.26 L1181.06,406.44 L1182.06,406.61 L1183.06,406.77 L1184.06,406.93 L1185.06,407.08 L1186.06,407.22 L1187.06,407.36 L1188.06,407.49 L1189.06,407.62 L1190.06,407.74 L1191.06,407.85 L1192.06,407.97 L1193.05,408.07 L1194.05,408.18 L1195.05,408.27 L1196.05,408.37 L1197.05,408.46 L1198.05,408.54 L1199.05,408.63 L1200.05,408.70 L1201.05,408.78 L1202.05,408.85 L1203.05,408.92 L1204.05,408.98 L1205.05,409.05 L1206.05,409.11 L1207.05,409.16 L1208.05,409.22 L1209.04,409.27 L1210.04,409.32 L1211.04,409.37 L1212.04,409.41 L1213.04,409.45 L1214.04,409.50 L1215.04,409.53 L1216.04,409.57 L1217.04,409.61 L1218.04,409.64 L1219.04,409.67 L1220.04,409.70 L1221.04,409.73 L1222.04,409.76 L1223.04,409.79 L1224.04,409.81 L1225.03,409.83 L1226.03,409.86 L1227.03,409.88 L1228.03,409.90 L1229.03,409.92 L1230.03,409.94 L1231.03,409.95 L1232.03,409.97 L1233.03,409.98 L1234.03,410.00 L1235.03,410.01 L1236.03,410.03 L1237.03,410.04 L1238.03,410.05 L1239.03,410.06 L1240.02,410.07 L1241.02,410.08 L1242.02,410.09 L1243.02,410.10 L1244.02,410.11 L1245.02,410.12 L1246.02,410.13 L1247.02,410.13 L1248.02,410.14 L1249.02,410.15 L1250.02,410.15 L1251.02,410.16 L1252.02,410.16 L1253.02,410.17 L1254.02,410.17 L1255.02,410.18 L1256.01,410.18 L1257.01,410.19 L1258.01,410.19 L1259.01,410.19 L1260.01,410.20 L1261.01,410.20 L1262.01,410.20 L1263.01,410.21 L1264.01,410.21 L1265.01,410.21 L1266.01,410.21 L1267.01,410.22 L1268.01,410.22 L1269.01,410.22 L1270.01,410.22 L1271.01,410.22 L1272.00,410.23 L1273.00,410.23 L1274.00,410.23 L1275.00,410.23 L1276.00,410.23 L1277.00,410.23 L1278.00,410.23 L1279.00,410.24 L1279.00,410.25 L715.36,410.25 Z" fill="#e94d4d" fill-opacity="0.5" stroke="none"/>
<path d="M715.36,409.85 L716.36,409.83 L717.36,409.81 L718.36,409.79 L719.36,409.77 L720.36,409.74 L721.36,409.72 L722.36,409.69 L723.35,409.66 L724.35,409.63 L725.35,409.60 L726.35,409.57 L727.35,409.53 L728.35,409.50 L729.35,409.46 L730.35,409.42 L731.35,409.38 L732.35,409.34 L733.35,409.30 L734.35,409.25 L735.35,409.21 L736.35,409.16 L737.35,409.10 L738.35,409.05 L739.34,408.99 L740.34,408.93 L741.34,408.87 L742.34,408.81 L743.34,408.74 L744.34,408.67 L745.34,408.60 L746.34,408.53 L747.34,408.45 L748.34,408.37 L749.34,408.28 L750.34,408.20 L751.34,408.10 L752.34,408.01 L753.34,407.91 L754.34,407.81 L755.33,407.70 L756.33,407.59 L757.33,407.47 L758.33,407.35 L759.33,407.23 L760.33,407.10 L761.33,406.97 L762.33,406.83 L763.33,406.68 L764.33,406.53 L765.33,406.38 L766.33,406.22 L767.33,406.05 L768.33,405.88 L769.33,405.70 L770.32,405.51 L771.32,405.32 L772.32,405.12 L773.32,404.91 L774.32,404.70 L775.32,404.48 L776.32,404.25 L777.32,404.01 L778.32,403.77 L779.32,403.52 L780.32,403.26 L781.32,402.99 L782.32,402.71 L783.32,402.42 L784.32,402.12 L785.32,401.81 L786.31,401.50 L787.31,401.17 L788.31,400.83 L789.31,400.48 L790.31,400.12 L791.31,399.75 L792.31,399.37 L793.31,398.97 L794.31,398.57 L795.31,398.15 L796.31,397.72 L797.31,397.27 L798.31,396.82 L799.31,396.34 L800.31,395.86 L801.31,395.36 L802.30,394.85 L803.30,394.32 L804.30,393.78 L805.30,393.22 L806.30,392.64 L807.30,392.06 L808.30,391.45 L809.30,390.83 L810.30,390.19 L811.30,389.53 L812.30,388.86 L813.30,388.17 L814.30,387.46 L815.30,386.73 L816.30,385.99 L817.29,385.22 L818.29,384.44 L819.29,383.63 L820.29,382.81 L821.29,381.97 L822.29,381.10 L823.29,380.22 L824.29,379.31 L825.29,378.39 L826.29,377.44 L827.29,376.47 L828.29,375.47 L829.29,374.46 L830.29,373.42 L831.29,372.36 L832.29,371.28 L833.28,370.17 L834.28,369.04 L835.28,367.89 L836.28,366.71 L837.28,365.51 L838.28,364.28 L839.28,363.03 L840.28,361.76 L841.28,360.46 L842.28,359.13 L843.28,357.78 L844.28,356.40 L845.28,355.00 L846.28,353.57 L847.28,352.12 L848.28,350.64 L849.27,349.13 L850.27,347.60 L851.27,346.04 L852.27,344.46 L853.27,342.85 L854.27,341.21 L855.27,339.54 L856.27,337.85 L857.27,336.14 L858.27,334.40 L859.27,332.63 L860.27,330.83 L861.27,329.01 L862.27,327.16 L863.27,325.29 L864.26,323.39 L865.26,321.47 L866.26,319.52 L867.26,317.55 L868.26,315.55 L869.26,313.52 L870.26,311.47 L871.26,309.40 L872.26,307.30 L873.26,305.18 L874.26,303.04 L875.26,300.87 L876.26,298.68 L877.26,296.47 L878.26,294.24 L879.26,291.98 L880.25,289.71 L881.25,287.41 L882.25,285.10 L883.25,282.76 L884.25,280.41 L885.25,278.04 L886.25,275.65 L887.25,273.24 L888.25,270.81 L889.25,268.38 L890.25,265.92 L891.25,263.45 L892.25,260.97 L893.25,258.47 L894.25,255.96 L895.25,253.44 L896.24,250.91 L897.24,248.37 L898.24,245.82 L899.24,243.26 L900.24,240.69 L901.24,238.12 L902.24,235.54 L903.24,232.96 L904.24,230.37 L905.24,227.78 L906.24,225.18 L907.24,222.59 L908.24,219.99 L909.24,217.40 L910.24,214.81 L911.23,212.22 L912.23,209.63 L913.23,207.05 L914.23,204.48 L915.23,201.91 L916.23,199.35 L917.23,196.80 L918.23,194.26 L919.23,191.73 L920.23,189.21 L921.23,186.71 L922.23,184.22 L923.23,181.75 L924.23,179.29 L925.23,176.85 L926.23,174.43 L927.22,172.04 L928.22,169.66 L929.22,167.30 L930.22,164.97 L931.22,162.67 L932.22,160.39 L933.22,158.13 L934.22,155.91 L935.22,153.71 L936.22,151.54 L937.22,149.41 L938.22,147.31 L939.22,145.24 L940.22,143.20 L941.22,141.20 L942.22,139.24 L943.21,137.32 L944.21,135.43 L945.21,133.58 L946.21,131.78 L947.21,130.01 L948.21,128.29 L949.21,126.61 L950.21,124.98 L951.21,123.39 L952.21,121.84 L953.21,120.35 L954.21,118.90 L955.21,117.50 L956.21,116.15 L957.21,114.84 L958.20,113.59 L959.20,112.39 L960.20,111.25 L961.20,110.15 L962.20,109.11 L963.20,108.12 L964.20,107.19 L965.20,106.31 L966.20,105.49 L967.20,104.72 L968.20,104.01 L969.20,103.36 L970.20,102.76 L971.20,102.22 L972.20,101.74 L973.20,101.31 L974.19,100.95 L975.19,100.64 L976.19,100.39 L977.19,100.20 L978.19,100.07 L979.19,100.00 L980.19,99.99 L981.19,100.03 L982.19,100.14 L983.19,100.30 L984.19,100.52 L985.19,100.80 L986.19,101.14 L987.19,101.54 L988.19,102.00 L989.19,102.51 L990.18,103.09 L991.18,103.71 L992.18,104.40 L993.18,105.14 L994.18,105.94 L995.18,106.79 L996.18,107.70 L997.18,108.67 L998.18,109.68 L999.18,110.76 L1000.18,111.88 L1001.18,113.06 L1002.18,114.29 L1003.18,115.56 L1004.18,116.89 L1005.17,118.27 L1006.17,119.70 L1007.17,121.18 L1008.17,122.70 L1009.17,124.27 L1010.17,125.88 L1011.17,127.54 L1012.17,129.25 L1013.17,130.99 L1014.17,132.78 L1015.17,134.61 L1016.17,136.48 L1017.17,138.39 L1018.17,140.33 L1019.17,142.31 L1020.17,144.33 L1021.16,146.39 L1022.16,148.48 L1023.16,150.60 L1024.16,152.75 L1025.16,154.93 L1026.16,157.14 L1027.16,159.39 L1028.16,161.65 L1029.16,163.95 L1030.16,166.27 L1031.16,168.61 L1032.16,170.98 L1033.16,173.37 L1034.16,175.78 L1035.16,178.21 L1036.16,180.66 L1037.15,183.12 L1038.15,185.61 L1039.15,188.10 L1040.15,190.61 L1041.15,193.14 L1042.15,195.67 L1043.15,198.22 L1044.15,200.77 L1045.15,203.34 L1046.15,205.91 L1047.15,208.49 L1048.15,211.07 L1049.15,213.66 L1050.15,216.25 L1051.15,218.85 L1052.14,221.44 L1053.14,224.03 L1054.14,226.63 L1055.14,229.22 L1056.14,231.81 L1057.14,234.40 L1058.14,236.98 L1059.14,239.55 L1060.14,242.12 L1061.14,244.69 L1062.14,247.24 L1063.14,249.79 L1064.14,252.32 L1065.14,254.85 L1066.14,257.36 L1067.14,259.87 L1068.13,262.35 L1069.13,264.83 L1070.13,267.29 L1071.13,269.74 L1072.13,272.17 L1073.13,274.58 L1074.13,276.98 L1075.13,279.36 L1076.13,281.72 L1077.13,284.07 L1078.13,286.39 L1079.13,288.70 L1080.13,290.98 L1081.13,293.24 L1082.13,295.49 L1083.13,297.71 L1084.12,299.91 L1085.12,302.08 L1086.12,304.24 L1087.12,306.37 L1088.12,308.48 L1089.12,310.56 L1090.12,312.62 L1091.12,314.65 L1092.12,316.66 L1093.12,318.65 L1094.12,320.61 L1095.12,322.55 L1096.12,324.46 L1097.12,326.34 L1098.12,328.20 L1099.11,330.03 L1100.11,331.84 L1101.11,333.62 L1102.11,335.37 L1103.11,337.10 L1104.11,338.80 L1105.11,340.48 L1106.11,342.12 L1107.11,343.75 L1108.11,345.34 L1109.11,346.91 L1110.11,348.46 L1111.11,349.98 L1112.11,351.47 L1113.11,352.93 L1114.11,354.37 L1115.10,355.79 L1116.10,357.17 L1117.10,358.54 L1118.10,359.87 L1119.10,361.19 L1120.10,362.47 L1121.10,363.73 L1122.10,364.97 L1123.10,366.18 L1124.10,367.37 L1125.10,368.54 L1126.10,369.68 L1127.10,370.79 L1128.10,371.89 L1129.10,372.96 L1130.10,374.00 L1131.09,375.03 L1132.09,376.03 L1133.09,377.01 L1134.09,377.97 L1135.09,378.90 L1136.09,379.82 L1137.09,380.71 L1138.09,381.59 L1139.09,382.44 L1140.09,383.27 L1141.09,384.08 L1142.09,384.88 L1143.09,385.65 L1144.09,386.40 L1145.09,387.14 L1146.08,387.86 L1147.08,388.56 L1148.08,389.24 L1149.08,389.90 L1150.08,390.55 L1151.08,391.18 L1152.08,391.79 L1153.08,392.39 L1154.08,392.97 L1155.08,393.53 L1156.08,394.08 L1157.08,394.62 L1158.08,395.14 L1159.08,395.64 L1160.08,396.13 L1161.08,396.61 L1162.07,397.07 L1163.07,397.52 L1164.07,397.96 L1165.07,398.38 L1166.07,398.80 L1167.07,399.20 L1168.07,399.58 L1169.07,399.96 L1170.07,400.32 L1171.07,400.68 L1172.07,401.02 L1173.07,401.35 L1174.07,401.67 L1175.07,401.99 L1176.07,402.29 L1177.07,402.58 L1178.06,402.86 L1179.06,403.14 L1180.06,403.40 L1181.06,403.66 L1182.06,403.91 L1183.06,404.15 L1184.06,404.38 L1185.06,404.60 L1186.06,404.82 L1187.06,405.03 L1188.06,405.23 L1189.06,405.43 L1190.06,405.62 L1191.06,405.80 L1192.06,405.97 L1193.05,406.14 L1194.05,406.31 L1195.05,406.46 L1196.05,406.62 L1197.05,406.76 L1198.05,406.90 L1199.05,407.04 L1200.05,407.17 L1201.05,407.30 L1202.05,407.42 L1203.05,407.54 L1204.05,407.65 L1205.05,407.76 L1206.05,407.86 L1207.05,407.97 L1208.05,408.06 L1209.04,408.16 L1210.04,408.24 L1211.04,408.33 L1212.04,408.41 L1213.04,408.49 L1214.04,408.57 L1215.04,408.64 L1216.04,408.71 L1217.04,408.78 L1218.04,408.85 L1219.04,408.91 L1220.04,408.97 L1221.04,409.03 L1222.04,409.08 L1223.04,409.13 L1224.04,409.18 L1225.03,409.23 L1226.03,409.28 L1227.03,409.32 L1228.03,409.37 L1229.03,409.41 L1230.03,409.45 L1231.03,409.48 L1232.03,409.52 L1233.03,409.55 L1234.03,409.59 L1235.03,409.62 L1236.03,409.65 L1237.03,409.68 L1238.03,409.70 L1239.03,409.73 L1240.02,409.76 L1241.02,409.78 L1242.02,409.80 L1243.02,409.82 L1244.02,409.84 L1245.02,409.86 L1246.02,409.88 L1247.02,409.90 L1248.02,409.92 L1249.02,409.94 L1250.02,409.95 L1251.02,409.97 L1252.02,409.98 L1253.02,409.99 L1254.02,410.01 L1255.02,410.02 L1256.01,410.03 L1257.01,410.04 L1258.01,410.05 L1259.01,410.06 L1260.01,410.07 L1261.01,410.08 L1262.01,410.09 L1263.01,410.10 L1264.01,410.11 L1265.01,410.11 L1266.01,410.12 L1267.01,410.13 L1268.01,410.14 L1269.01,410.14 L1270.01,410.15 L1271.01,410.15 L1272.00,410.16 L1273.00,410.16 L1274.00,410.17 L1275.00,410.17 L1276.00,410.18 L1277.00,410.18 L1278.00,410.18 L1279.00,410.19 L1279.00,410.25 L715.36,410.25 Z" fill="#b3fb9b" fill-opacity="0.55" stroke="none"/>
<g fill="#b0b0b0">
<rect x="766.945" y="25" width="1.11" height="386"/>
<rect x="868.945" y="25" width="1.11" height="386"/>
<rect x="971.945" y="25" width="1.11" height="386"/>
<rect x="1073.945" y="25" width="1.11" height="386"/>
<rect x="1176.945" y="25" width="1.11" height="386"/>
<rect x="715" y="79.945" width="565" height="1.11"/>
<rect x="715" y="134.945" width="565" height="1.11"/>
<rect x="715" y="189.945" width="565" height="1.11"/>
<rect x="715" y="244.945" width="565" height="1.11"/>
<rect x="715" y="299.945" width="565" height="1.11"/>
<rect x="715" y="354.945" width="565" height="1.11"/>
</g>
<path d="M715.36,410.16 L716.36,410.15 L717.36,410.14 L718.36,410.14 L719.36,410.13 L720.36,410.12 L721.36,410.12 L722.36,410.11 L723.35,410.10 L724.35,410.09 L725.35,410.08 L726.35,410.07 L727.35,410.06 L728.35,410.05 L729.35,410.03 L730.35,410.02 L731.35,410.01 L732.35,409.99 L733.35,409.98 L734.35,409.96 L735.35,409.95 L736.35,409.93 L737.35,409.91 L738.35,409.89 L739.34,409.87 L740.34,409.85 L741.34,409.82 L742.34,409.80 L743.34,409.78 L744.34,409.75 L745.34,409.72 L746.34,409.69 L747.34,409.66 L748.34,409.63 L749.34,409.59 L750.34,409.56 L751.34,409.52 L752.34,409.48 L753.34,409.44 L754.34,409.39 L755.33,409.35 L756.33,409.30 L757.33,409.25 L758.33,409.20 L759.33,409.14 L760.33,409.08 L761.33,409.02 L762.33,408.96 L763.33,408.89 L764.33,408.82 L765.33,408.75 L766.33,408.67 L767.33,408.59 L768.33,408.51 L769.33,408.42 L770.32,408.33 L771.32,408.23 L772.32,408.13 L773.32,408.03 L774.32,407.92 L775.32,407.81 L776.32,407.69 L777.32,407.57 L778.32,407.44 L779.32,407.30 L780.32,407.16 L781.32,407.02 L782.32,406.86 L783.32,406.70 L784.32,406.54 L785.32,406.37 L786.31,406.19 L787.31,406.00 L788.31,405.81 L789.31,405.61 L790.31,405.40 L791.31,405.18 L792.31,404.95 L793.31,404.72 L794.31,404.47 L795.31,404.22 L796.31,403.95 L797.31,403.68 L798.31,403.39 L799.31,403.10 L800.31,402.79 L801.31,402.47 L802.30,402.15 L803.30,401.80 L804.30,401.45 L805.30,401.08 L806.30,400.71 L807.30,400.31 L808.30,399.91 L809.30,399.49 L810.30,399.05 L811.30,398.60 L812.30,398.14 L813.30,397.65 L814.30,397.16 L815.30,396.64 L816.30,396.11 L817.29,395.57 L818.29,395.00 L819.29,394.42 L820.29,393.81 L821.29,393.19 L822.29,392.55 L823.29,391.89 L824.29,391.21 L825.29,390.51 L826.29,389.78 L827.29,389.04 L828.29,388.27 L829.29,387.48 L830.29,386.67 L831.29,385.84 L832.29,384.98 L833.28,384.09 L834.28,383.18 L835.28,382.25 L836.28,381.29 L837.28,380.31 L838.28,379.29 L839.28,378.26 L840.28,377.19 L841.28,376.10 L842.28,374.98 L843.28,373.83 L844.28,372.65 L845.28,371.44 L846.28,370.20 L847.28,368.93 L848.28,367.63 L849.27,366.31 L850.27,364.95 L851.27,363.55 L852.27,362.13 L853.27,360.68 L854.27,359.19 L855.27,357.67 L856.27,356.11 L857.27,354.53 L858.27,352.91 L859.27,351.26 L860.27,349.57 L861.27,347.85 L862.27,346.09 L863.27,344.30 L864.26,342.48 L865.26,340.62 L866.26,338.73 L867.26,336.80 L868.26,334.84 L869.26,332.84 L870.26,330.81 L871.26,328.74 L872.26,326.64 L873.26,324.51 L874.26,322.34 L875.26,320.13 L876.26,317.90 L877.26,315.62 L878.26,313.32 L879.26,310.98 L880.25,308.61 L881.25,306.20 L882.25,303.76 L883.25,301.29 L884.25,298.79 L885.25,296.26 L886.25,293.69 L887.25,291.10 L888.25,288.47 L889.25,285.82 L890.25,283.13 L891.25,280.42 L892.25,277.68 L893.25,274.92 L894.25,272.13 L895.25,269.31 L896.24,266.47 L897.24,263.60 L898.24,260.71 L899.24,257.80 L900.24,254.87 L901.24,251.92 L902.24,248.95 L903.24,245.96 L904.24,242.95 L905.24,239.93 L906.24,236.89 L907.24,233.84 L908.24,230.78 L909.24,227.70 L910.24,224.62 L911.23,221.52 L912.23,218.42 L913.23,215.31 L914.23,212.20 L915.23,209.08 L916.23,205.96 L917.23,202.84 L918.23,199.72 L919.23,196.61 L920.23,193.49 L921.23,190.38 L922.23,187.28 L923.23,184.18 L924.23,181.10 L925.23,178.02 L926.23,174.96 L927.22,171.91 L928.22,168.88 L929.22,165.86 L930.22,162.86 L931.22,159.89 L932.22,156.93 L933.22,154.00 L934.22,151.10 L935.22,148.22 L936.22,145.37 L937.22,142.55 L938.22,139.77 L939.22,137.01 L940.22,134.29 L941.22,131.61 L942.22,128.97 L943.21,126.36 L944.21,123.80 L945.21,121.28 L946.21,118.81 L947.21,116.38 L948.21,114.00 L949.21,111.66 L950.21,109.38 L951.21,107.15 L952.21,104.98 L953.21,102.85 L954.21,100.79 L955.21,98.78 L956.21,96.83 L957.21,94.94 L958.20,93.11 L959.20,91.34 L960.20,89.64 L961.20,88.00 L962.20,86.43 L963.20,84.92 L964.20,83.48 L965.20,82.11 L966.20,80.81 L967.20,79.58 L968.20,78.42 L969.20,77.33 L970.20,76.32 L971.20,75.38 L972.20,74.51 L973.20,73.72 L974.19,73.01 L975.19,72.37 L976.19,71.80 L977.19,71.31 L978.19,70.90 L979.19,70.57 L980.19,70.31 L981.19,70.13 L982.19,70.03 L983.19,70.01 L984.19,70.07 L985.19,70.20 L986.19,70.41 L987.19,70.70 L988.19,71.06 L989.19,71.50 L990.18,72.02 L991.18,72.62 L992.18,73.29 L993.18,74.03 L994.18,74.86 L995.18,75.75 L996.18,76.72 L997.18,77.77 L998.18,78.88 L999.18,80.07 L1000.18,81.33 L1001.18,82.66 L1002.18,84.05 L1003.18,85.52 L1004.18,87.05 L1005.17,88.65 L1006.17,90.32 L1007.17,92.05 L1008.17,93.84 L1009.17,95.70 L1010.17,97.61 L1011.17,99.58 L1012.17,101.62 L1013.17,103.71 L1014.17,105.85 L1015.17,108.05 L1016.17,110.30 L1017.17,112.60 L1018.17,114.96 L1019.17,117.36 L1020.17,119.80 L1021.16,122.30 L1022.16,124.83 L1023.16,127.41 L1024.16,130.03 L1025.16,132.69 L1026.16,135.39 L1027.16,138.12 L1028.16,140.89 L1029.16,143.69 L1030.16,146.52 L1031.16,149.38 L1032.16,152.27 L1033.16,155.19 L1034.16,158.13 L1035.16,161.09 L1036.16,164.08 L1037.15,167.08 L1038.15,170.10 L1039.15,173.14 L1040.15,176.20 L1041.15,179.26 L1042.15,182.34 L1043.15,185.43 L1044.15,188.53 L1045.15,191.64 L1046.15,194.75 L1047.15,197.87 L1048.15,200.99 L1049.15,204.11 L1050.15,207.23 L1051.15,210.35 L1052.14,213.46 L1053.14,216.57 L1054.14,219.68 L1055.14,222.78 L1056.14,225.87 L1057.14,228.95 L1058.14,232.02 L1059.14,235.08 L1060.14,238.13 L1061.14,241.16 L1062.14,244.17 L1063.14,247.17 L1064.14,250.15 L1065.14,253.12 L1066.14,256.06 L1067.14,258.98 L1068.13,261.89 L1069.13,264.77 L1070.13,267.62 L1071.13,270.45 L1072.13,273.26 L1073.13,276.04 L1074.13,278.80 L1075.13,281.52 L1076.13,284.22 L1077.13,286.90 L1078.13,289.54 L1079.13,292.15 L1080.13,294.73 L1081.13,297.29 L1082.13,299.81 L1083.13,302.30 L1084.12,304.75 L1085.12,307.18 L1086.12,309.57 L1087.12,311.93 L1088.12,314.26 L1089.12,316.55 L1090.12,318.81 L1091.12,321.03 L1092.12,323.22 L1093.12,325.38 L1094.12,327.50 L1095.12,329.59 L1096.12,331.64 L1097.12,333.66 L1098.12,335.64 L1099.11,337.59 L1100.11,339.50 L1101.11,341.38 L1102.11,343.22 L1103.11,345.03 L1104.11,346.81 L1105.11,348.55 L1106.11,350.26 L1107.11,351.93 L1108.11,353.57 L1109.11,355.18 L1110.11,356.75 L1111.11,358.29 L1112.11,359.79 L1113.11,361.27 L1114.11,362.71 L1115.10,364.12 L1116.10,365.50 L1117.10,366.85 L1118.10,368.16 L1119.10,369.45 L1120.10,370.71 L1121.10,371.93 L1122.10,373.13 L1123.10,374.29 L1124.10,375.43 L1125.10,376.54 L1126.10,377.63 L1127.10,378.68 L1128.10,379.71 L1129.10,380.71 L1130.10,381.68 L1131.09,382.63 L1132.09,383.55 L1133.09,384.45 L1134.09,385.33 L1135.09,386.18 L1136.09,387.00 L1137.09,387.81 L1138.09,388.59 L1139.09,389.34 L1140.09,390.08 L1141.09,390.79 L1142.09,391.49 L1143.09,392.16 L1144.09,392.81 L1145.09,393.45 L1146.08,394.06 L1147.08,394.65 L1148.08,395.23 L1149.08,395.79 L1150.08,396.33 L1151.08,396.85 L1152.08,397.36 L1153.08,397.85 L1154.08,398.33 L1155.08,398.78 L1156.08,399.23 L1157.08,399.66 L1158.08,400.07 L1159.08,400.47 L1160.08,400.86 L1161.08,401.23 L1162.07,401.60 L1163.07,401.94 L1164.07,402.28 L1165.07,402.60 L1166.07,402.92 L1167.07,403.22 L1168.07,403.51 L1169.07,403.79 L1170.07,404.06 L1171.07,404.32 L1172.07,404.57 L1173.07,404.81 L1174.07,405.04 L1175.07,405.27 L1176.07,405.48 L1177.07,405.69 L1178.06,405.89 L1179.06,406.08 L1180.06,406.26 L1181.06,406.44 L1182.06,406.61 L1183.06,406.77 L1184.06,406.93 L1185.06,407.08 L1186.06,407.22 L1187.06,407.36 L1188.06,407.49 L1189.06,407.62 L1190.06,407.74 L1191.06,407.85 L1192.06,407.97 L1193.05,408.07 L1194.05,408.18 L1195.05,408.27 L1196.05,408.37 L1197.05,408.46 L1198.05,408.54 L1199.05,408.63 L1200.05,408.70 L1201.05,408.78 L1202.05,408.85 L1203.05,408.92 L1204.05,408.98 L1205.05,409.05 L1206.05,409.11 L1207.05,409.16 L1208.05,409.22 L1209.04,409.27 L1210.04,409.32 L1211.04,409.37 L1212.04,409.41 L1213.04,409.45 L1214.04,409.50 L1215.04,409.53 L1216.04,409.57 L1217.04,409.61 L1218.04,409.64 L1219.04,409.67 L1220.04,409.70 L1221.04,409.73 L1222.04,409.76 L1223.04,409.79 L1224.04,409.81 L1225.03,409.83 L1226.03,409.86 L1227.03,409.88 L1228.03,409.90 L1229.03,409.92 L1230.03,409.94 L1231.03,409.95 L1232.03,409.97 L1233.03,409.98 L1234.03,410.00 L1235.03,410.01 L1236.03,410.03 L1237.03,410.04 L1238.03,410.05 L1239.03,410.06 L1240.02,410.07 L1241.02,410.08 L1242.02,410.09 L1243.02,410.10 L1244.02,410.11 L1245.02,410.12 L1246.02,410.13 L1247.02,410.13 L1248.02,410.14 L1249.02,410.15 L1250.02,410.15 L1251.02,410.16 L1252.02,410.16 L1253.02,410.17 L1254.02,410.17 L1255.02,410.18 L1256.01,410.18 L1257.01,410.19 L1258.01,410.19 L1259.01,410.19 L1260.01,410.20 L1261.01,410.20 L1262.01,410.20 L1263.01,410.21 L1264.01,410.21 L1265.01,410.21 L1266.01,410.21 L1267.01,410.22 L1268.01,410.22 L1269.01,410.22 L1270.01,410.22 L1271.01,410.22 L1272.00,410.23 L1273.00,410.23 L1274.00,410.23 L1275.00,410.23 L1276.00,410.23 L1277.00,410.23 L1278.00,410.23 L1279.00,410.24" fill="none" stroke="#dd0000" stroke-width="2.083" stroke-linejoin="round" stroke-linecap="square"/>
<rect x="981.96" y="70.01" width="2.08" height="340.24" fill="#dd0000"/>
<path d="M715.36,409.85 L716.36,409.83 L717.36,409.81 L718.36,409.79 L719.36,409.77 L720.36,409.74 L721.36,409.72 L722.36,409.69 L723.35,409.66 L724.35,409.63 L725.35,409.60 L726.35,409.57 L727.35,409.53 L728.35,409.50 L729.35,409.46 L730.35,409.42 L731.35,409.38 L732.35,409.34 L733.35,409.30 L734.35,409.25 L735.35,409.21 L736.35,409.16 L737.35,409.10 L738.35,409.05 L739.34,408.99 L740.34,408.93 L741.34,408.87 L742.34,408.81 L743.34,408.74 L744.34,408.67 L745.34,408.60 L746.34,408.53 L747.34,408.45 L748.34,408.37 L749.34,408.28 L750.34,408.20 L751.34,408.10 L752.34,408.01 L753.34,407.91 L754.34,407.81 L755.33,407.70 L756.33,407.59 L757.33,407.47 L758.33,407.35 L759.33,407.23 L760.33,407.10 L761.33,406.97 L762.33,406.83 L763.33,406.68 L764.33,406.53 L765.33,406.38 L766.33,406.22 L767.33,406.05 L768.33,405.88 L769.33,405.70 L770.32,405.51 L771.32,405.32 L772.32,405.12 L773.32,404.91 L774.32,404.70 L775.32,404.48 L776.32,404.25 L777.32,404.01 L778.32,403.77 L779.32,403.52 L780.32,403.26 L781.32,402.99 L782.32,402.71 L783.32,402.42 L784.32,402.12 L785.32,401.81 L786.31,401.50 L787.31,401.17 L788.31,400.83 L789.31,400.48 L790.31,400.12 L791.31,399.75 L792.31,399.37 L793.31,398.97 L794.31,398.57 L795.31,398.15 L796.31,397.72 L797.31,397.27 L798.31,396.82 L799.31,396.34 L800.31,395.86 L801.31,395.36 L802.30,394.85 L803.30,394.32 L804.30,393.78 L805.30,393.22 L806.30,392.64 L807.30,392.06 L808.30,391.45 L809.30,390.83 L810.30,390.19 L811.30,389.53 L812.30,388.86 L813.30,388.17 L814.30,387.46 L815.30,386.73 L816.30,385.99 L817.29,385.22 L818.29,384.44 L819.29,383.63 L820.29,382.81 L821.29,381.97 L822.29,381.10 L823.29,380.22 L824.29,379.31 L825.29,378.39 L826.29,377.44 L827.29,376.47 L828.29,375.47 L829.29,374.46 L830.29,373.42 L831.29,372.36 L832.29,371.28 L833.28,370.17 L834.28,369.04 L835.28,367.89 L836.28,366.71 L837.28,365.51 L838.28,364.28 L839.28,363.03 L840.28,361.76 L841.28,360.46 L842.28,359.13 L843.28,357.78 L844.28,356.40 L845.28,355.00 L846.28,353.57 L847.28,352.12 L848.28,350.64 L849.27,349.13 L850.27,347.60 L851.27,346.04 L852.27,344.46 L853.27,342.85 L854.27,341.21 L855.27,339.54 L856.27,337.85 L857.27,336.14 L858.27,334.40 L859.27,332.63 L860.27,330.83 L861.27,329.01 L862.27,327.16 L863.27,325.29 L864.26,323.39 L865.26,321.47 L866.26,319.52 L867.26,317.55 L868.26,315.55 L869.26,313.52 L870.26,311.47 L871.26,309.40 L872.26,307.30 L873.26,305.18 L874.26,303.04 L875.26,300.87 L876.26,298.68 L877.26,296.47 L878.26,294.24 L879.26,291.98 L880.25,289.71 L881.25,287.41 L882.25,285.10 L883.25,282.76 L884.25,280.41 L885.25,278.04 L886.25,275.65 L887.25,273.24 L888.25,270.81 L889.25,268.38 L890.25,265.92 L891.25,263.45 L892.25,260.97 L893.25,258.47 L894.25,255.96 L895.25,253.44 L896.24,250.91 L897.24,248.37 L898.24,245.82 L899.24,243.26 L900.24,240.69 L901.24,238.12 L902.24,235.54 L903.24,232.96 L904.24,230.37 L905.24,227.78 L906.24,225.18 L907.24,222.59 L908.24,219.99 L909.24,217.40 L910.24,214.81 L911.23,212.22 L912.23,209.63 L913.23,207.05 L914.23,204.48 L915.23,201.91 L916.23,199.35 L917.23,196.80 L918.23,194.26 L919.23,191.73 L920.23,189.21 L921.23,186.71 L922.23,184.22 L923.23,181.75 L924.23,179.29 L925.23,176.85 L926.23,174.43 L927.22,172.04 L928.22,169.66 L929.22,167.30 L930.22,164.97 L931.22,162.67 L932.22,160.39 L933.22,158.13 L934.22,155.91 L935.22,153.71 L936.22,151.54 L937.22,149.41 L938.22,147.31 L939.22,145.24 L940.22,143.20 L941.22,141.20 L942.22,139.24 L943.21,137.32 L944.21,135.43 L945.21,133.58 L946.21,131.78 L947.21,130.01 L948.21,128.29 L949.21,126.61 L950.21,124.98 L951.21,123.39 L952.21,121.84 L953.21,120.35 L954.21,118.90 L955.21,117.50 L956.21,116.15 L957.21,114.84 L958.20,113.59 L959.20,112.39 L960.20,111.25 L961.20,110.15 L962.20,109.11 L963.20,108.12 L964.20,107.19 L965.20,106.31 L966.20,105.49 L967.20,104.72 L968.20,104.01 L969.20,103.36 L970.20,102.76 L971.20,102.22 L972.20,101.74 L973.20,101.31 L974.19,100.95 L975.19,100.64 L976.19,100.39 L977.19,100.20 L978.19,100.07 L979.19,100.00 L980.19,99.99 L981.19,100.03 L982.19,100.14 L983.19,100.30 L984.19,100.52 L985.19,100.80 L986.19,101.14 L987.19,101.54 L988.19,102.00 L989.19,102.51 L990.18,103.09 L991.18,103.71 L992.18,104.40 L993.18,105.14 L994.18,105.94 L995.18,106.79 L996.18,107.70 L997.18,108.67 L998.18,109.68 L999.18,110.76 L1000.18,111.88 L1001.18,113.06 L1002.18,114.29 L1003.18,115.56 L1004.18,116.89 L1005.17,118.27 L1006.17,119.70 L1007.17,121.18 L1008.17,122.70 L1009.17,124.27 L1010.17,125.88 L1011.17,127.54 L1012.17,129.25 L1013.17,130.99 L1014.17,132.78 L1015.17,134.61 L1016.17,136.48 L1017.17,138.39 L1018.17,140.33 L1019.17,142.31 L1020.17,144.33 L1021.16,146.39 L1022.16,148.48 L1023.16,150.60 L1024.16,152.75 L1025.16,154.93 L1026.16,157.14 L1027.16,159.39 L1028.16,161.65 L1029.16,163.95 L1030.16,166.27 L1031.16,168.61 L1032.16,170.98 L1033.16,173.37 L1034.16,175.78 L1035.16,178.21 L1036.16,180.66 L1037.15,183.12 L1038.15,185.61 L1039.15,188.10 L1040.15,190.61 L1041.15,193.14 L1042.15,195.67 L1043.15,198.22 L1044.15,200.77 L1045.15,203.34 L1046.15,205.91 L1047.15,208.49 L1048.15,211.07 L1049.15,213.66 L1050.15,216.25 L1051.15,218.85 L1052.14,221.44 L1053.14,224.03 L1054.14,226.63 L1055.14,229.22 L1056.14,231.81 L1057.14,234.40 L1058.14,236.98 L1059.14,239.55 L1060.14,242.12 L1061.14,244.69 L1062.14,247.24 L1063.14,249.79 L1064.14,252.32 L1065.14,254.85 L1066.14,257.36 L1067.14,259.87 L1068.13,262.35 L1069.13,264.83 L1070.13,267.29 L1071.13,269.74 L1072.13,272.17 L1073.13,274.58 L1074.13,276.98 L1075.13,279.36 L1076.13,281.72 L1077.13,284.07 L1078.13,286.39 L1079.13,288.70 L1080.13,290.98 L1081.13,293.24 L1082.13,295.49 L1083.13,297.71 L1084.12,299.91 L1085.12,302.08 L1086.12,304.24 L1087.12,306.37 L1088.12,308.48 L1089.12,310.56 L1090.12,312.62 L1091.12,314.65 L1092.12,316.66 L1093.12,318.65 L1094.12,320.61 L1095.12,322.55 L1096.12,324.46 L1097.12,326.34 L1098.12,328.20 L1099.11,330.03 L1100.11,331.84 L1101.11,333.62 L1102.11,335.37 L1103.11,337.10 L1104.11,338.80 L1105.11,340.48 L1106.11,342.12 L1107.11,343.75 L1108.11,345.34 L1109.11,346.91 L1110.11,348.46 L1111.11,349.98 L1112.11,351.47 L1113.11,352.93 L1114.11,354.37 L1115.10,355.79 L1116.10,357.17 L1117.10,358.54 L1118.10,359.87 L1119.10,361.19 L1120.10,362.47 L1121.10,363.73 L1122.10,364.97 L1123.10,366.18 L1124.10,367.37 L1125.10,368.54 L1126.10,369.68 L1127.10,370.79 L1128.10,371.89 L1129.10,372.96 L1130.10,374.00 L1131.09,375.03 L1132.09,376.03 L1133.09,377.01 L1134.09,377.97 L1135.09,378.90 L1136.09,379.82 L1137.09,380.71 L1138.09,381.59 L1139.09,382.44 L1140.09,383.27 L1141.09,384.08 L1142.09,384.88 L1143.09,385.65 L1144.09,386.40 L1145.09,387.14 L1146.08,387.86 L1147.08,388.56 L1148.08,389.24 L1149.08,389.90 L1150.08,390.55 L1151.08,391.18 L1152.08,391.79 L1153.08,392.39 L1154.08,392.97 L1155.08,393.53 L1156.08,394.08 L1157.08,394.62 L1158.08,395.14 L1159.08,395.64 L1160.08,396.13 L1161.08,396.61 L1162.07,397.07 L1163.07,397.52 L1164.07,397.96 L1165.07,398.38 L1166.07,398.80 L1167.07,399.20 L1168.07,399.58 L1169.07,399.96 L1170.07,400.32 L1171.07,400.68 L1172.07,401.02 L1173.07,401.35 L1174.07,401.67 L1175.07,401.99 L1176.07,402.29 L1177.07,402.58 L1178.06,402.86 L1179.06,403.14 L1180.06,403.40 L1181.06,403.66 L1182.06,403.91 L1183.06,404.15 L1184.06,404.38 L1185.06,404.60 L1186.06,404.82 L1187.06,405.03 L1188.06,405.23 L1189.06,405.43 L1190.06,405.62 L1191.06,405.80 L1192.06,405.97 L1193.05,406.14 L1194.05,406.31 L1195.05,406.46 L1196.05,406.62 L1197.05,406.76 L1198.05,406.90 L1199.05,407.04 L1200.05,407.17 L1201.05,407.30 L1202.05,407.42 L1203.05,407.54 L1204.05,407.65 L1205.05,407.76 L1206.05,407.86 L1207.05,407.97 L1208.05,408.06 L1209.04,408.16 L1210.04,408.24 L1211.04,408.33 L1212.04,408.41 L1213.04,408.49 L1214.04,408.57 L1215.04,408.64 L1216.04,408.71 L1217.04,408.78 L1218.04,408.85 L1219.04,408.91 L1220.04,408.97 L1221.04,409.03 L1222.04,409.08 L1223.04,409.13 L1224.04,409.18 L1225.03,409.23 L1226.03,409.28 L1227.03,409.32 L1228.03,409.37 L1229.03,409.41 L1230.03,409.45 L1231.03,409.48 L1232.03,409.52 L1233.03,409.55 L1234.03,409.59 L1235.03,409.62 L1236.03,409.65 L1237.03,409.68 L1238.03,409.70 L1239.03,409.73 L1240.02,409.76 L1241.02,409.78 L1242.02,409.80 L1243.02,409.82 L1244.02,409.84 L1245.02,409.86 L1246.02,409.88 L1247.02,409.90 L1248.02,409.92 L1249.02,409.94 L1250.02,409.95 L1251.02,409.97 L1252.02,409.98 L1253.02,409.99 L1254.02,410.01 L1255.02,410.02 L1256.01,410.03 L1257.01,410.04 L1258.01,410.05 L1259.01,410.06 L1260.01,410.07 L1261.01,410.08 L1262.01,410.09 L1263.01,410.10 L1264.01,410.11 L1265.01,410.11 L1266.01,410.12 L1267.01,410.13 L1268.01,410.14 L1269.01,410.14 L1270.01,410.15 L1271.01,410.15 L1272.00,410.16 L1273.00,410.16 L1274.00,410.17 L1275.00,410.17 L1276.00,410.18 L1277.00,410.18 L1278.00,410.18 L1279.00,410.19" fill="none" stroke="#007000" stroke-width="2.083" stroke-linejoin="round" stroke-linecap="square"/>
<rect x="978.96" y="99.98" width="2.08" height="310.27" fill="#007000"/>
</g>
<g fill="#000">
<rect x="714.945" y="24.945" width="1.11" height="386.11"/><rect x="1278.945" y="24.945" width="1.11" height="386.11"/>
<rect x="714.945" y="24.945" width="565.11" height="1.11"/><rect x="714.945" y="409.945" width="565.11" height="1.11"/>
<rect x="766.945" y="411" width="1.11" height="4.5"/>
<rect x="868.945" y="411" width="1.11" height="4.5"/>
<rect x="971.945" y="411" width="1.11" height="4.5"/>
<rect x="1073.945" y="411" width="1.11" height="4.5"/>
<rect x="1176.945" y="411" width="1.11" height="4.5"/>
<rect x="1278.945" y="411" width="1.11" height="4.5"/>
<rect x="710.5" y="24.945" width="4.5" height="1.11"/>
<rect x="710.5" y="79.945" width="4.5" height="1.11"/>
<rect x="710.5" y="134.945" width="4.5" height="1.11"/>
<rect x="710.5" y="189.945" width="4.5" height="1.11"/>
<rect x="710.5" y="244.945" width="4.5" height="1.11"/>
<rect x="710.5" y="299.945" width="4.5" height="1.11"/>
<rect x="710.5" y="354.945" width="4.5" height="1.11"/>
<rect x="710.5" y="409.945" width="4.5" height="1.11"/>
</g>
<rect x="484.5" y="32.5" width="112.0" height="46" rx="2.78" ry="2.78" fill="#fff" fill-opacity="0.8" stroke="#ccc" stroke-opacity="0.8" stroke-width="1.39"/>
<rect x="488.00" y="42.96" width="30.04" height="2.08" fill="#0000cd"/>
<rect x="488.00" y="63.96" width="30.04" height="2.08" fill="#007000"/>
<rect x="1180.5" y="32.5" width="92.0" height="46" rx="2.78" ry="2.78" fill="#fff" fill-opacity="0.8" stroke="#ccc" stroke-opacity="0.8" stroke-width="1.39"/>
<rect x="1184.00" y="42.96" width="30.04" height="2.08" fill="#dd0000"/>
<rect x="1184.00" y="63.96" width="30.04" height="2.08" fill="#007000"/>
</svg>
<div id="labels">
<div class="t" style="transform:matrix(1.0074,0,0,1.0447,7.56,15.37)">3.5</div>
<div class="t" style="transform:matrix(1.0231,0,0,1.0093,7.43,70.91)">3.0</div>
<div class="t" style="transform:matrix(1.0848,0,0,1.0114,7.18,125.83)">2.5</div>
<div class="t" style="transform:matrix(1.0994,0,0,0.9979,7.20,181.08)">2.0</div>
<div class="t" style="transform:matrix(1.0273,0,0,1.0214,8.33,235.69)">1.5</div>
<div class="t" style="transform:matrix(1.0359,0,0,1.0149,8.30,290.79)">1.0</div>
<div class="t" style="transform:matrix(1.0230,0,0,1.0013,8.33,345.96)">0.5</div>
<div class="t" style="transform:matrix(1.0282,0,0,0.9750,8.36,401.40)">0.0</div>
<div class="t" style="transform:matrix(1.1044,0,0,0.9816,68.24,416.17)">20000</div>
<div class="t" style="transform:matrix(1.0809,0,0,0.9843,172.18,416.19)">40000</div>
<div class="t" style="transform:matrix(1.1077,0,0,0.9826,273.17,416.30)">60000</div>
<div class="t" style="transform:matrix(1.1026,0,0,0.9796,376.32,416.34)">80000</div>
<div class="t" style="transform:matrix(1.0924,0,0,0.9848,474.02,416.21)">100000</div>
<div class="t" style="transform:matrix(1.0915,0,0,0.9995,577.08,415.96)">120000</div>
<div class="t" style="transform:matrix(1.1423,0,0,1.0252,40.03,5.65)">1e−5</div>
<div class="t" style="transform:matrix(1.0074,0,0,1.0447,684.56,15.37)">3.5</div>
<div class="t" style="transform:matrix(1.0231,0,0,1.0093,684.43,70.91)">3.0</div>
<div class="t" style="transform:matrix(1.0848,0,0,1.0114,684.18,125.83)">2.5</div>
<div class="t" style="transform:matrix(1.0994,0,0,0.9979,684.20,181.08)">2.0</div>
<div class="t" style="transform:matrix(1.0273,0,0,1.0214,684.33,235.69)">1.5</div>
<div class="t" style="transform:matrix(1.0359,0,0,1.0149,684.30,290.79)">1.0</div>
<div class="t" style="transform:matrix(1.0230,0,0,1.0013,685.33,345.96)">0.5</div>
<div class="t" style="transform:matrix(1.0282,0,0,0.9750,685.36,401.40)">0.0</div>
<div class="t" style="transform:matrix(1.1044,0,0,0.9816,745.24,416.17)">20000</div>
<div class="t" style="transform:matrix(1.0809,0,0,0.9843,848.18,416.19)">40000</div>
<div class="t" style="transform:matrix(1.1077,0,0,0.9826,950.17,416.30)">60000</div>
<div class="t" style="transform:matrix(1.1026,0,0,0.9796,1052.32,416.34)">80000</div>
<div class="t" style="transform:matrix(1.0924,0,0,0.9848,1151.02,416.21)">100000</div>
<div class="t" style="transform:matrix(1.0915,0,0,0.9995,1253.08,415.96)">120000</div>
<div class="t" style="transform:matrix(1.1423,0,0,1.0252,716.03,5.65)">1e−5</div>
<div class="t" style="transform:matrix(1.1101,0,0,1.0000,235.07,435.94)">Feb-Mar Utilization (min)</div>
<div class="t" style="transform:matrix(1.1162,0,0,1.0000,912.06,435.00)">Mar-Apr Utilization (min)</div>
<div class="t" style="transform:matrix(1.0700,0,0,1.0000,529.04,33.05)">February</div>
<div class="t" style="transform:matrix(1.0524,0,0,1.0000,529.14,54.00)">March</div>
<div class="t" style="transform:matrix(1.0875,0,0,1.0000,1224.02,33.00)">April</div>
<div class="t" style="transform:matrix(1.0524,0,0,1.0000,1224.14,54.00)">March</div>
</div>
</div>
</body></html>
